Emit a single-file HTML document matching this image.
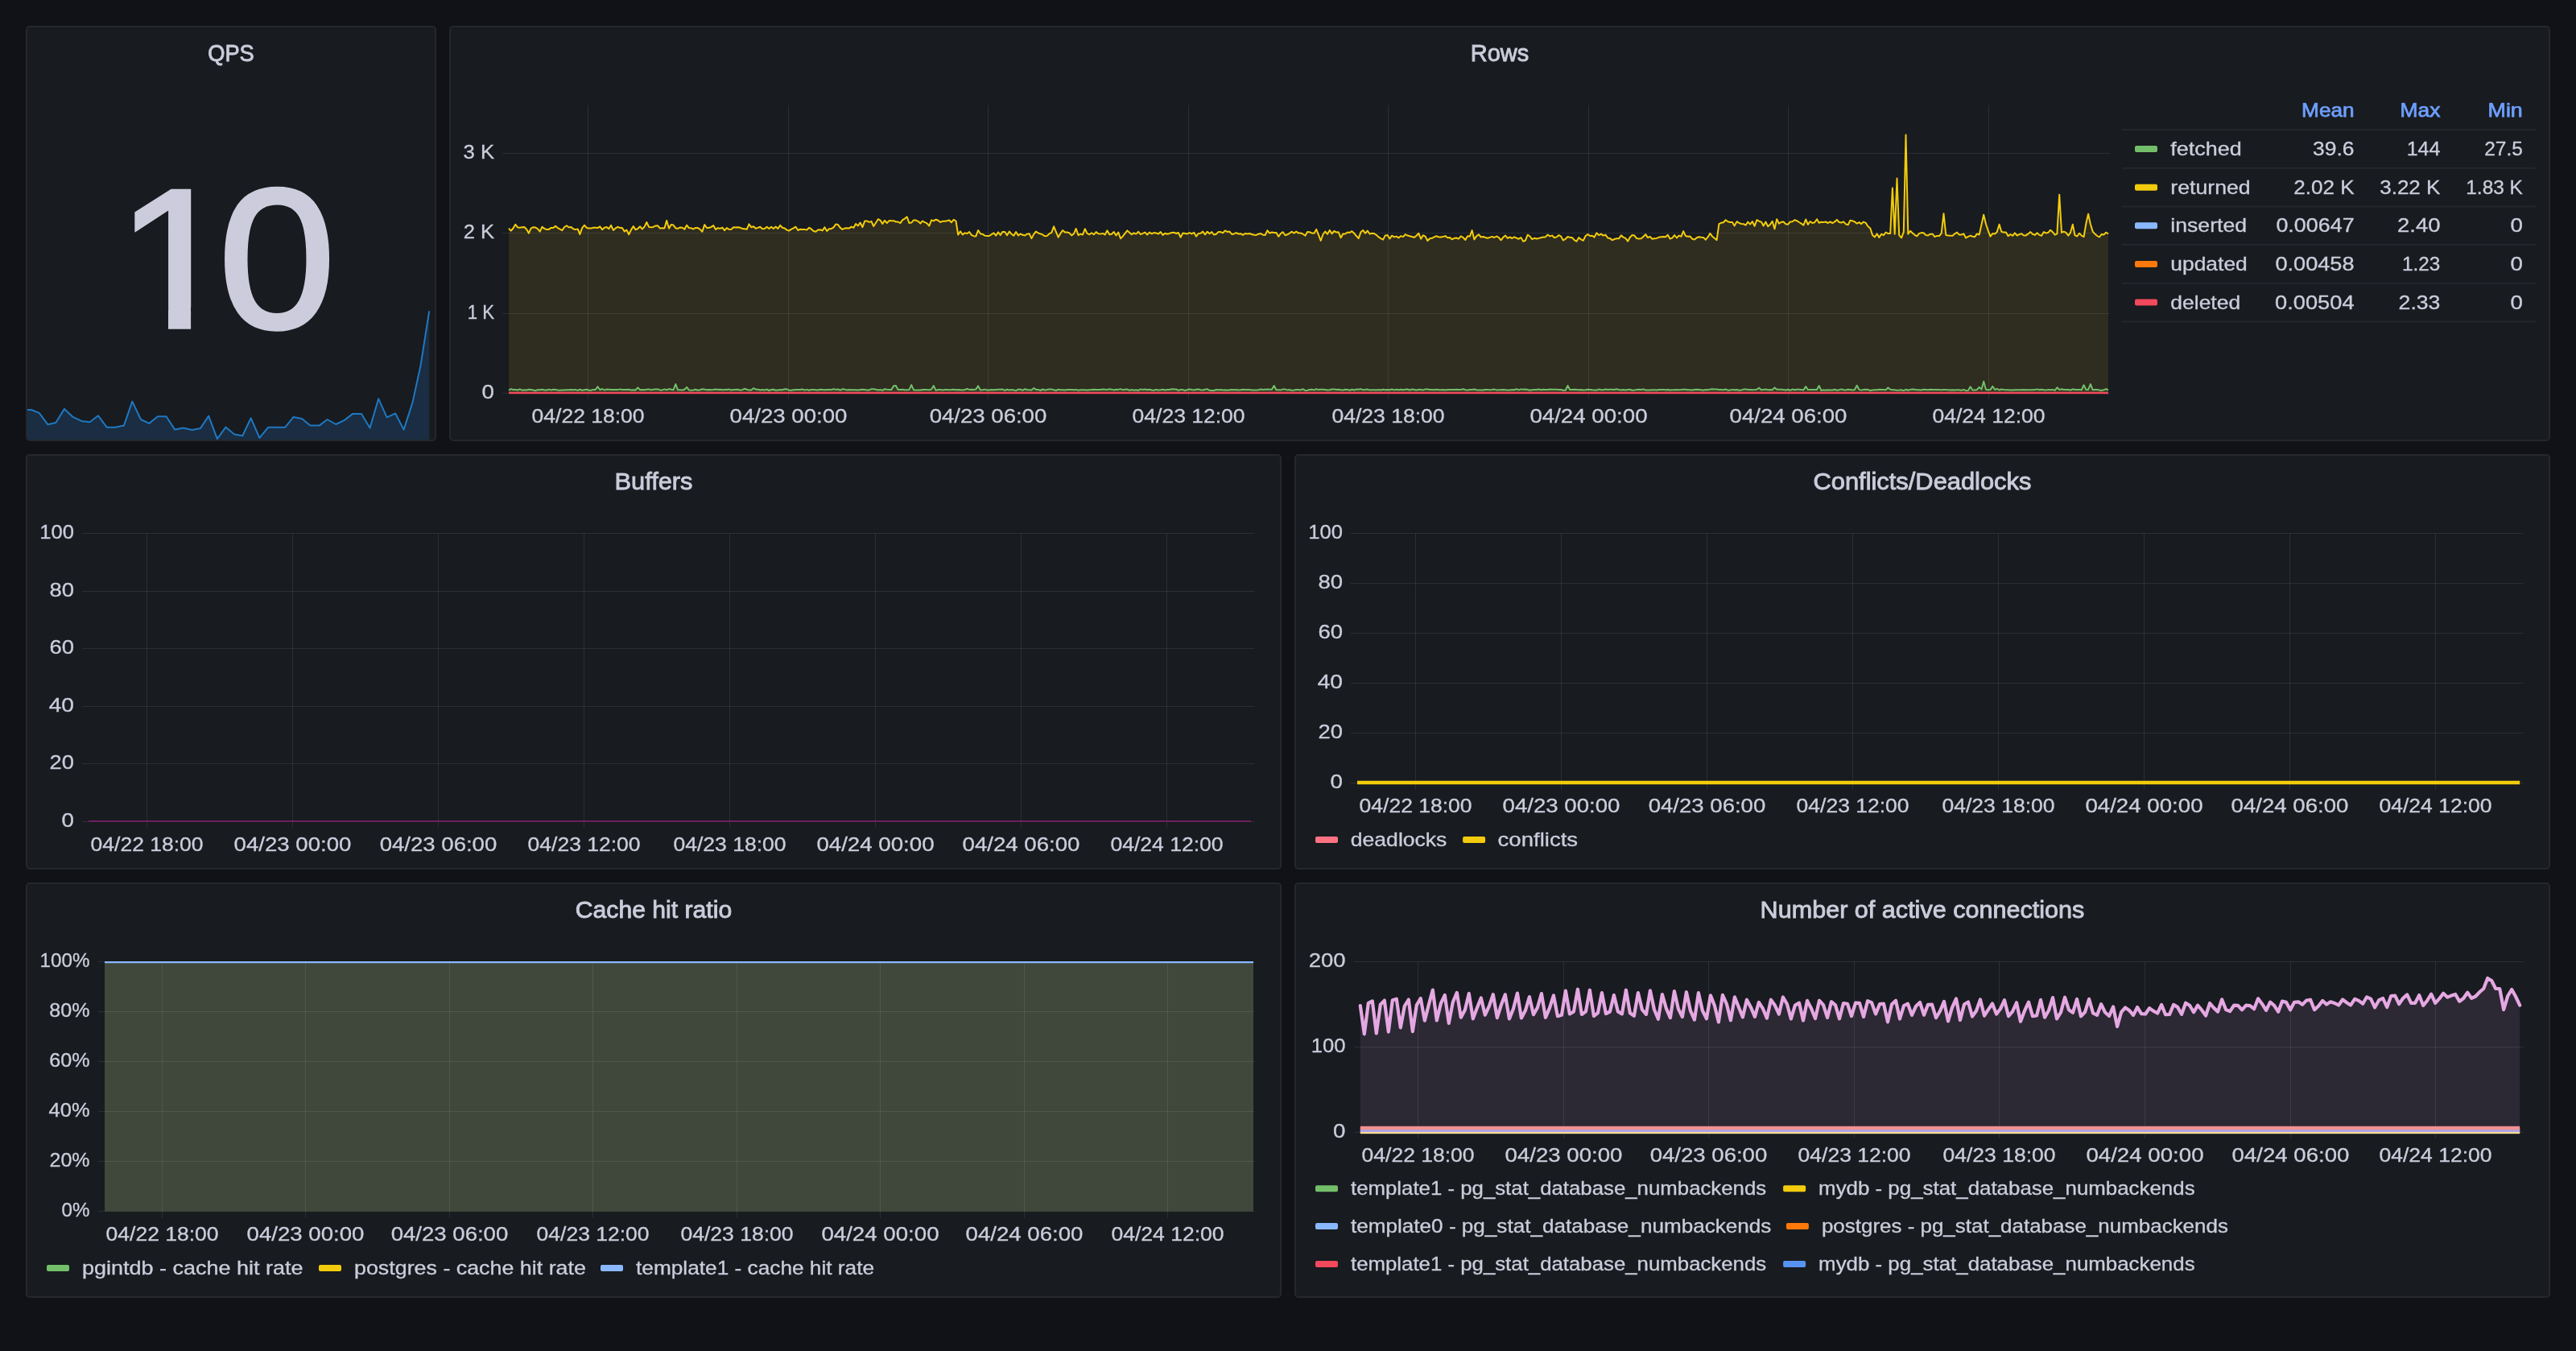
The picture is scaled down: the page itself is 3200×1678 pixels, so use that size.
<!DOCTYPE html><html lang="en"><head><meta charset="utf-8"><title>PostgreSQL dashboard</title><style>
html,body{margin:0;padding:0;background:#111217;}
body{width:3200px;height:1678px;position:relative;overflow:hidden;font-family:"Liberation Sans", sans-serif;}
.panel{position:absolute;box-sizing:border-box;background:#181b1f;border:2px solid #25272c;border-radius:5px;overflow:hidden;}
.panel svg{position:absolute;left:-2px;top:-2px;display:block;font-family:"Liberation Sans", sans-serif;will-change:transform;}
</style></head><body>
<div class="panel" style="left:32px;top:32px;width:510px;height:516px">
<svg width="510" height="516" viewBox="32 32 510 516">
<polygon points="28.2,509.0 38.7,509.0 48.7,512.9 59.3,527.2 69.3,525.0 80.0,507.9 90.6,517.9 101.3,522.9 111.6,524.2 122.0,516.3 132.9,530.8 143.3,530.8 153.9,528.6 164.3,498.6 175.0,521.0 185.3,525.9 195.9,517.3 206.6,517.3 217.2,533.6 227.6,531.6 238.6,533.9 249.0,531.9 259.2,516.6 269.9,545.2 280.3,530.6 291.3,539.5 301.3,541.2 311.7,519.3 322.4,543.9 333.0,530.8 343.7,530.8 354.1,530.8 364.6,517.9 375.0,519.9 385.5,528.6 396.6,528.6 406.6,521.0 417.3,527.0 427.9,521.9 438.2,513.9 449.0,513.9 459.5,531.6 470.2,495.3 480.6,518.3 491.2,513.5 501.6,533.6 512.5,499.9 522.5,454.0 533.2,386.3 533.2,548 28.2,548" fill="#2984e6" fill-opacity="0.175"/>
<polyline points="28.2,509.0 38.7,509.0 48.7,512.9 59.3,527.2 69.3,525.0 80.0,507.9 90.6,517.9 101.3,522.9 111.6,524.2 122.0,516.3 132.9,530.8 143.3,530.8 153.9,528.6 164.3,498.6 175.0,521.0 185.3,525.9 195.9,517.3 206.6,517.3 217.2,533.6 227.6,531.6 238.6,533.9 249.0,531.9 259.2,516.6 269.9,545.2 280.3,530.6 291.3,539.5 301.3,541.2 311.7,519.3 322.4,543.9 333.0,530.8 343.7,530.8 354.1,530.8 364.6,517.9 375.0,519.9 385.5,528.6 396.6,528.6 406.6,521.0 417.3,527.0 427.9,521.9 438.2,513.9 449.0,513.9 459.5,531.6 470.2,495.3 480.6,518.3 491.2,513.5 501.6,533.6 512.5,499.9 522.5,454.0 533.2,386.3" fill="none" stroke="#1F78C1" stroke-width="2" stroke-linejoin="round"/>
<defs><clipPath id="c10"><rect x="100" y="200" width="400" height="181.5"/><rect x="209" y="380" width="28.1" height="40"/><rect x="286" y="380" width="150" height="40"/></clipPath></defs>
<text y="406.8" font-size="247" fill="#ccccdc" stroke="#ccccdc" clip-path="url(#c10)"><tspan x="143.6" stroke-width="4" textLength="149.7" lengthAdjust="spacingAndGlyphs">1</tspan><tspan x="271.5" stroke-width="5" textLength="145.1" lengthAdjust="spacingAndGlyphs">0</tspan></text>
<text x="258.2" y="75.7" font-size="29.26" fill="#ccccdc" textLength="57.6" lengthAdjust="spacingAndGlyphs" stroke="#ccccdc" stroke-width="0.88">QPS</text>
</svg></div>
<div class="panel" style="left:558px;top:32px;width:2610px;height:516px">
<svg width="2610" height="516" viewBox="558 32 2610 516">
<line x1="624.0" x2="2620.6" y1="488.5" y2="488.5" stroke="rgba(240,250,255,0.092)" stroke-width="1"/>
<line x1="624.0" x2="2620.6" y1="389.5" y2="389.5" stroke="rgba(240,250,255,0.092)" stroke-width="1"/>
<line x1="624.0" x2="2620.6" y1="289.5" y2="289.5" stroke="rgba(240,250,255,0.092)" stroke-width="1"/>
<line x1="624.0" x2="2620.6" y1="190.5" y2="190.5" stroke="rgba(240,250,255,0.092)" stroke-width="1"/>
<line x1="730.5" x2="730.5" y1="130.4" y2="496.0" stroke="rgba(240,250,255,0.092)" stroke-width="1"/>
<line x1="979.5" x2="979.5" y1="130.4" y2="496.0" stroke="rgba(240,250,255,0.092)" stroke-width="1"/>
<line x1="1227.5" x2="1227.5" y1="130.4" y2="496.0" stroke="rgba(240,250,255,0.092)" stroke-width="1"/>
<line x1="1476.5" x2="1476.5" y1="130.4" y2="496.0" stroke="rgba(240,250,255,0.092)" stroke-width="1"/>
<line x1="1724.5" x2="1724.5" y1="130.4" y2="496.0" stroke="rgba(240,250,255,0.092)" stroke-width="1"/>
<line x1="1973.5" x2="1973.5" y1="130.4" y2="496.0" stroke="rgba(240,250,255,0.092)" stroke-width="1"/>
<line x1="2221.5" x2="2221.5" y1="130.4" y2="496.0" stroke="rgba(240,250,255,0.092)" stroke-width="1"/>
<line x1="2470.5" x2="2470.5" y1="130.4" y2="496.0" stroke="rgba(240,250,255,0.092)" stroke-width="1"/>
<polygon points="632.0,484.6 634.8,483.1 637.5,484.0 640.3,484.1 643.1,484.5 645.8,483.4 648.6,484.7 651.3,484.2 654.1,484.5 656.9,483.8 659.6,483.9 662.4,484.4 665.2,485.2 667.9,484.1 670.7,484.2 673.5,483.8 676.2,484.5 679.0,484.6 681.7,483.7 684.5,484.4 687.3,483.8 690.0,484.1 692.8,484.5 695.6,484.7 698.3,484.5 701.1,484.4 703.9,484.2 706.6,484.3 709.4,484.1 712.1,484.3 714.9,483.9 717.7,484.9 720.4,483.8 723.2,484.7 726.0,484.2 728.7,483.7 731.5,484.7 734.3,484.8 737.0,483.9 739.8,484.0 742.5,480.2 745.3,484.3 748.1,483.0 750.8,484.5 753.6,483.6 756.4,483.7 759.1,484.0 761.9,484.1 764.7,483.9 767.4,484.1 770.2,483.4 772.9,484.0 775.7,484.0 778.5,484.0 781.2,483.7 784.0,484.6 786.8,484.2 789.5,484.5 792.3,481.4 795.1,484.2 797.8,484.0 800.6,484.2 803.3,483.7 806.1,483.4 808.9,484.4 811.6,483.7 814.4,483.6 817.2,483.5 819.9,484.4 822.7,484.4 825.4,483.4 828.2,484.3 831.0,483.1 833.7,483.7 836.5,484.3 839.3,477.1 842.0,484.3 844.8,484.3 847.6,484.5 850.3,483.7 853.1,480.9 855.8,484.4 858.6,484.7 861.4,484.5 864.1,483.7 866.9,484.7 869.7,484.2 872.4,483.3 875.2,483.8 878.0,484.3 880.7,484.0 883.5,484.3 886.2,484.0 889.0,483.5 891.8,484.0 894.5,483.8 897.3,484.2 900.1,484.0 902.8,484.0 905.6,483.6 908.4,484.5 911.1,484.1 913.9,484.0 916.6,483.8 919.4,484.4 922.2,484.2 924.9,482.8 927.7,483.7 930.5,484.5 933.2,484.6 936.0,482.2 938.8,483.7 941.5,483.8 944.3,484.4 947.0,484.0 949.8,484.5 952.6,483.6 955.3,485.0 958.1,484.0 960.9,483.8 963.6,484.8 966.4,484.4 969.2,484.0 971.9,484.2 974.7,483.3 977.4,483.4 980.2,484.7 983.0,484.8 985.7,484.3 988.5,484.0 991.3,484.1 994.0,484.0 996.8,483.4 999.6,484.6 1002.3,483.9 1005.1,484.7 1007.8,483.9 1010.6,484.0 1013.4,484.2 1016.1,484.4 1018.9,483.8 1021.7,483.9 1024.4,484.3 1027.2,484.0 1030.0,484.1 1032.7,484.1 1035.5,483.2 1038.2,483.9 1041.0,483.5 1043.8,484.7 1046.5,483.3 1049.3,483.6 1052.1,484.4 1054.8,484.0 1057.6,484.2 1060.4,484.2 1063.1,484.2 1065.9,484.6 1068.6,484.1 1071.4,483.7 1074.2,483.9 1076.9,484.4 1079.7,484.4 1082.5,483.3 1085.2,483.3 1088.0,483.8 1090.8,484.4 1093.5,484.0 1096.3,484.9 1099.0,483.2 1101.8,483.8 1104.6,483.9 1107.3,484.1 1110.1,479.2 1112.9,478.9 1115.6,483.9 1118.4,483.9 1121.2,483.7 1123.9,484.3 1126.7,484.2 1129.4,484.1 1132.2,478.1 1135.0,484.4 1137.7,484.4 1140.5,484.5 1143.3,484.5 1146.0,484.0 1148.8,483.9 1151.5,484.1 1154.3,484.2 1157.1,483.6 1159.8,479.1 1162.6,484.9 1165.4,484.0 1168.1,483.9 1170.9,484.4 1173.7,484.1 1176.4,484.1 1179.2,484.3 1181.9,484.1 1184.7,483.8 1187.5,484.3 1190.2,484.1 1193.0,484.2 1195.8,484.5 1198.5,484.1 1201.3,483.0 1204.1,483.9 1206.8,483.8 1209.6,483.9 1212.3,483.6 1215.1,479.4 1217.9,484.5 1220.6,484.3 1223.4,483.6 1226.2,484.5 1228.9,484.5 1231.7,484.1 1234.5,484.3 1237.2,484.0 1240.0,483.8 1242.7,483.7 1245.5,483.6 1248.3,484.9 1251.0,483.8 1253.8,484.5 1256.6,484.0 1259.3,484.4 1262.1,485.1 1264.9,483.6 1267.6,483.8 1270.4,484.8 1273.1,483.2 1275.9,484.3 1278.7,484.3 1281.4,484.4 1284.2,482.0 1287.0,483.9 1289.7,483.9 1292.5,485.0 1295.3,483.5 1298.0,484.6 1300.8,484.1 1303.5,483.5 1306.3,483.6 1309.1,484.3 1311.8,485.0 1314.6,483.7 1317.4,484.2 1320.1,484.2 1322.9,484.4 1325.7,484.1 1328.4,484.0 1331.2,483.9 1333.9,484.3 1336.7,483.9 1339.5,484.8 1342.2,484.3 1345.0,484.2 1347.8,484.3 1350.5,484.6 1353.3,484.2 1356.1,484.1 1358.8,483.8 1361.6,484.1 1364.3,484.1 1367.1,484.0 1369.9,483.6 1372.6,483.7 1375.4,484.1 1378.2,483.3 1380.9,483.7 1383.7,484.4 1386.5,483.8 1389.2,483.9 1392.0,483.1 1394.7,484.3 1397.5,483.8 1400.3,483.6 1403.0,484.7 1405.8,484.1 1408.6,484.7 1411.3,484.3 1414.1,484.9 1416.9,483.4 1419.6,484.1 1422.4,483.6 1425.1,484.2 1427.9,483.7 1430.7,484.5 1433.4,484.7 1436.2,483.9 1439.0,484.4 1441.7,484.2 1444.5,483.8 1447.3,484.5 1450.0,484.1 1452.8,483.9 1455.5,483.3 1458.3,483.6 1461.1,483.5 1463.8,484.9 1466.6,484.0 1469.4,484.1 1472.1,485.0 1474.9,484.1 1477.6,483.6 1480.4,484.1 1483.2,484.4 1485.9,483.8 1488.7,483.5 1491.5,484.3 1494.2,484.4 1497.0,483.8 1499.8,483.3 1502.5,484.8 1505.3,485.0 1508.0,485.0 1510.8,484.0 1513.6,484.3 1516.3,483.9 1519.1,484.5 1521.9,484.3 1524.6,484.8 1527.4,484.3 1530.2,484.0 1532.9,484.3 1535.7,484.1 1538.4,484.4 1541.2,484.3 1544.0,483.7 1546.7,484.0 1549.5,484.1 1552.3,484.1 1555.0,484.6 1557.8,484.4 1560.6,484.4 1563.3,484.2 1566.1,483.6 1568.8,484.1 1571.6,483.7 1574.4,483.5 1577.1,483.8 1579.9,483.7 1582.7,479.0 1585.4,484.2 1588.2,484.2 1591.0,484.4 1593.7,483.4 1596.5,483.6 1599.2,484.4 1602.0,484.0 1604.8,484.9 1607.5,484.6 1610.3,484.1 1613.1,484.0 1615.8,484.4 1618.6,483.3 1621.4,484.9 1624.1,484.7 1626.9,484.1 1629.6,483.7 1632.4,484.4 1635.2,483.3 1637.9,484.1 1640.7,483.8 1643.5,483.8 1646.2,484.1 1649.0,484.5 1651.8,484.2 1654.5,483.5 1657.3,483.6 1660.0,484.0 1662.8,483.8 1665.6,484.3 1668.3,484.4 1671.1,483.8 1673.9,483.9 1676.6,484.8 1679.4,483.8 1682.2,484.5 1684.9,483.6 1687.7,483.8 1690.4,483.1 1693.2,484.3 1696.0,484.0 1698.7,483.6 1701.5,484.4 1704.3,484.3 1707.0,484.2 1709.8,484.6 1712.6,484.1 1715.3,484.5 1718.1,483.7 1720.8,484.2 1723.6,484.0 1726.4,484.3 1729.1,483.5 1731.9,484.4 1734.7,483.7 1737.4,484.2 1740.2,483.8 1743.0,484.2 1745.7,483.7 1748.5,483.5 1751.2,484.6 1754.0,483.5 1756.8,484.0 1759.5,484.6 1762.3,483.8 1765.1,483.9 1767.8,484.4 1770.6,483.4 1773.4,483.5 1776.1,484.0 1778.9,484.0 1781.6,484.2 1784.4,483.7 1787.2,484.2 1789.9,484.3 1792.7,484.1 1795.5,484.4 1798.2,484.1 1801.0,484.1 1803.7,484.1 1806.5,484.0 1809.3,483.8 1812.0,484.0 1814.8,483.9 1817.6,483.2 1820.3,484.2 1823.1,484.4 1825.9,484.1 1828.6,483.9 1831.4,483.5 1834.1,484.3 1836.9,484.4 1839.7,484.4 1842.4,484.5 1845.2,483.9 1848.0,484.1 1850.7,484.2 1853.5,484.1 1856.3,483.6 1859.0,484.4 1861.8,484.2 1864.5,484.3 1867.3,483.9 1870.1,484.2 1872.8,484.6 1875.6,484.5 1878.4,484.1 1881.1,484.3 1883.9,483.3 1886.7,484.4 1889.4,483.4 1892.2,483.8 1894.9,483.6 1897.7,484.0 1900.5,484.8 1903.2,484.2 1906.0,483.9 1908.8,483.9 1911.5,483.5 1914.3,484.3 1917.1,483.7 1919.8,484.0 1922.6,484.0 1925.3,483.5 1928.1,483.8 1930.9,483.7 1933.6,483.8 1936.4,484.1 1939.2,484.1 1941.9,484.7 1944.7,484.7 1947.5,479.0 1950.2,483.9 1953.0,484.1 1955.7,483.8 1958.5,483.9 1961.3,484.2 1964.0,484.1 1966.8,484.4 1969.6,484.2 1972.3,483.7 1975.1,483.9 1977.9,484.3 1980.6,484.6 1983.4,484.6 1986.1,483.6 1988.9,484.2 1991.7,484.2 1994.4,483.6 1997.2,483.9 2000.0,483.7 2002.7,483.7 2005.5,484.0 2008.3,483.3 2011.0,484.1 2013.8,484.4 2016.5,483.9 2019.3,484.4 2022.1,483.9 2024.8,483.7 2027.6,484.8 2030.4,484.6 2033.1,483.9 2035.9,483.8 2038.7,483.9 2041.4,483.4 2044.2,484.5 2046.9,484.6 2049.7,484.6 2052.5,484.3 2055.2,484.3 2058.0,484.6 2060.8,484.0 2063.5,484.0 2066.3,484.1 2069.1,484.2 2071.8,484.0 2074.6,484.4 2077.3,484.3 2080.1,484.2 2082.9,484.0 2085.6,484.3 2088.4,484.1 2091.2,483.7 2093.9,483.8 2096.7,484.3 2099.5,484.2 2102.2,484.6 2105.0,484.1 2107.7,483.7 2110.5,483.9 2113.3,484.2 2116.0,484.7 2118.8,484.1 2121.6,484.3 2124.3,483.6 2127.1,483.2 2129.8,483.6 2132.6,483.6 2135.4,484.1 2138.1,484.0 2140.9,484.3 2143.7,483.5 2146.4,484.7 2149.2,484.6 2152.0,483.9 2154.7,484.2 2157.5,484.0 2160.2,484.7 2163.0,484.5 2165.8,483.6 2168.5,483.6 2171.3,483.9 2174.1,484.0 2176.8,484.3 2179.6,484.1 2182.4,483.8 2185.1,481.8 2187.9,484.2 2190.6,483.9 2193.4,483.6 2196.2,484.2 2198.9,483.9 2201.7,484.3 2204.5,481.4 2207.2,483.8 2210.0,483.7 2212.8,483.8 2215.5,484.0 2218.3,484.4 2221.0,483.8 2223.8,484.7 2226.6,483.6 2229.3,484.2 2232.1,483.8 2234.9,483.8 2237.6,484.0 2240.4,484.4 2243.2,480.0 2245.9,484.1 2248.7,484.0 2251.4,483.9 2254.2,484.0 2257.0,484.1 2259.7,479.1 2262.5,485.1 2265.3,484.2 2268.0,484.7 2270.8,484.3 2273.6,484.5 2276.3,484.5 2279.1,483.8 2281.8,484.8 2284.6,484.3 2287.4,483.4 2290.1,484.3 2292.9,484.4 2295.7,483.7 2298.4,483.9 2301.2,484.5 2304.0,484.0 2306.7,478.8 2309.5,483.9 2312.2,484.6 2315.0,483.9 2317.8,483.8 2320.5,483.9 2323.3,485.0 2326.1,484.4 2328.8,484.2 2331.6,484.2 2334.4,483.7 2337.1,484.1 2339.9,484.0 2342.6,484.2 2345.4,481.5 2348.2,483.8 2350.9,484.2 2353.7,484.3 2356.5,484.7 2359.2,484.6 2362.0,484.2 2364.8,485.1 2367.5,483.8 2370.3,484.8 2373.0,483.9 2375.8,483.6 2378.6,483.8 2381.3,484.2 2384.1,484.3 2386.9,484.4 2389.6,483.7 2392.4,483.9 2395.2,484.3 2397.9,483.7 2400.7,484.1 2403.4,484.1 2406.2,483.9 2409.0,484.1 2411.7,484.2 2414.5,483.9 2417.3,484.1 2420.0,484.2 2422.8,484.6 2425.6,484.2 2428.3,484.4 2431.1,484.3 2433.8,484.2 2436.6,484.7 2439.4,483.9 2442.1,485.2 2444.9,485.0 2447.7,480.3 2450.4,484.5 2453.2,484.6 2455.9,484.0 2458.7,480.9 2461.5,483.6 2464.2,473.7 2467.0,483.7 2469.8,484.2 2472.5,484.1 2475.3,479.9 2478.1,484.0 2480.8,482.9 2483.6,484.5 2486.3,483.5 2489.1,483.9 2491.9,484.2 2494.6,484.3 2497.4,484.4 2500.2,484.4 2502.9,484.2 2505.7,484.3 2508.5,484.3 2511.2,484.3 2514.0,484.0 2516.7,484.3 2519.5,484.3 2522.3,484.3 2525.0,484.2 2527.8,484.1 2530.6,483.4 2533.3,484.3 2536.1,483.7 2538.9,484.3 2541.6,484.6 2544.4,483.9 2547.1,484.3 2549.9,483.9 2552.7,484.9 2555.4,481.3 2558.2,484.1 2561.0,483.2 2563.7,484.0 2566.5,483.9 2569.3,483.9 2572.0,484.5 2574.8,483.3 2577.5,484.0 2580.3,484.1 2583.1,484.1 2585.8,484.2 2588.6,478.3 2591.4,484.0 2594.1,483.9 2596.9,477.1 2599.7,484.3 2602.4,484.0 2605.2,484.1 2607.9,484.5 2610.7,485.0 2613.5,484.1 2616.2,483.3 2619.0,484.2 2619.0,488 632.0,488" fill="#73BF69" fill-opacity="0.1"/>
<polygon points="632.0,283.7 634.8,286.6 637.5,283.5 640.3,278.8 643.1,282.4 645.8,282.7 648.6,282.2 651.3,282.1 654.1,284.7 656.9,289.7 659.6,283.6 662.4,282.2 665.2,282.6 667.9,284.2 670.7,287.6 673.5,281.7 676.2,283.9 679.0,285.1 681.7,284.9 684.5,282.9 687.3,283.1 690.0,280.7 692.8,283.1 695.6,284.7 698.3,286.1 701.1,282.0 703.9,280.3 706.6,282.2 709.4,281.9 712.1,284.2 714.9,285.1 717.7,284.4 720.4,291.0 723.2,283.1 726.0,279.7 728.7,282.9 731.5,283.4 734.3,283.6 737.0,282.7 739.8,282.7 742.5,283.1 745.3,281.3 748.1,285.2 750.8,282.7 753.6,282.1 756.4,284.2 759.1,279.8 761.9,285.9 764.7,283.4 767.4,281.8 770.2,283.0 772.9,283.0 775.7,287.4 778.5,285.6 781.2,291.2 784.0,285.4 786.8,281.1 789.5,285.3 792.3,284.0 795.1,281.3 797.8,284.5 800.6,281.6 803.3,276.0 806.1,281.9 808.9,282.2 811.6,281.9 814.4,280.4 817.2,280.3 819.9,283.6 822.7,283.2 825.4,283.5 828.2,273.9 831.0,283.8 833.7,279.1 836.5,279.5 839.3,283.3 842.0,284.0 844.8,282.4 847.6,282.8 850.3,284.8 853.1,279.7 855.8,283.1 858.6,283.3 861.4,284.5 864.1,282.9 866.9,283.1 869.7,284.8 872.4,287.8 875.2,279.1 878.0,283.0 880.7,283.0 883.5,281.9 886.2,280.1 889.0,284.9 891.8,283.2 894.5,283.9 897.3,282.6 900.1,286.2 902.8,283.1 905.6,284.8 908.4,284.9 911.1,282.2 913.9,282.6 916.6,282.3 919.4,282.7 922.2,284.1 924.9,284.3 927.7,284.8 930.5,278.4 933.2,282.2 936.0,281.2 938.8,283.8 941.5,282.9 944.3,281.8 947.0,284.3 949.8,284.1 952.6,281.8 955.3,284.0 958.1,281.7 960.9,284.1 963.6,281.5 966.4,283.9 969.2,279.9 971.9,282.7 974.7,283.5 977.4,285.6 980.2,286.6 983.0,284.7 985.7,283.4 988.5,281.7 991.3,286.0 994.0,284.7 996.8,285.1 999.6,284.9 1002.3,285.6 1005.1,282.8 1007.8,284.4 1010.6,287.0 1013.4,287.8 1016.1,285.4 1018.9,285.3 1021.7,286.4 1024.4,282.2 1027.2,287.0 1030.0,284.2 1032.7,284.2 1035.5,282.4 1038.2,278.5 1041.0,279.1 1043.8,282.9 1046.5,284.9 1049.3,283.6 1052.1,283.3 1054.8,283.6 1057.6,281.6 1060.4,282.8 1063.1,278.1 1065.9,280.4 1068.6,276.5 1071.4,282.1 1074.2,274.6 1076.9,274.4 1079.7,275.9 1082.5,275.0 1085.2,281.0 1088.0,276.8 1090.8,272.2 1093.5,273.6 1096.3,278.0 1099.0,273.8 1101.8,277.0 1104.6,274.1 1107.3,274.2 1110.1,274.2 1112.9,275.5 1115.6,275.5 1118.4,277.1 1121.2,273.2 1123.9,271.6 1126.7,269.3 1129.4,277.0 1132.2,276.6 1135.0,273.4 1137.7,273.6 1140.5,274.8 1143.3,277.5 1146.0,274.5 1148.8,276.1 1151.5,277.3 1154.3,280.6 1157.1,273.4 1159.8,274.4 1162.6,272.7 1165.4,273.8 1168.1,276.1 1170.9,274.7 1173.7,274.8 1176.4,274.2 1179.2,273.5 1181.9,276.2 1184.7,272.9 1187.5,274.5 1190.2,291.6 1193.0,287.3 1195.8,291.5 1198.5,289.3 1201.3,290.1 1204.1,288.0 1206.8,291.9 1209.6,293.2 1212.3,293.4 1215.1,286.0 1217.9,290.3 1220.6,290.9 1223.4,292.7 1226.2,293.0 1228.9,293.0 1231.7,291.2 1234.5,289.4 1237.2,292.6 1240.0,288.3 1242.7,291.9 1245.5,287.9 1248.3,288.0 1251.0,292.2 1253.8,287.5 1256.6,290.8 1259.3,292.8 1262.1,288.0 1264.9,292.4 1267.6,290.5 1270.4,291.8 1273.1,292.5 1275.9,290.7 1278.7,290.3 1281.4,296.1 1284.2,290.9 1287.0,287.5 1289.7,289.5 1292.5,290.4 1295.3,291.5 1298.0,293.3 1300.8,292.9 1303.5,290.3 1306.3,288.9 1309.1,281.3 1311.8,287.8 1314.6,294.7 1317.4,289.9 1320.1,286.0 1322.9,288.5 1325.7,288.5 1328.4,289.3 1331.2,292.4 1333.9,290.3 1336.7,284.0 1339.5,292.1 1342.2,290.6 1345.0,291.5 1347.8,284.2 1350.5,289.9 1353.3,291.3 1356.1,289.3 1358.8,291.3 1361.6,288.1 1364.3,290.3 1367.1,290.6 1369.9,289.9 1372.6,291.4 1375.4,286.3 1378.2,291.2 1380.9,290.7 1383.7,288.0 1386.5,292.5 1389.2,288.5 1392.0,296.2 1394.7,293.6 1397.5,289.9 1400.3,286.4 1403.0,288.7 1405.8,291.2 1408.6,289.3 1411.3,290.6 1414.1,287.8 1416.9,291.1 1419.6,289.9 1422.4,288.6 1425.1,291.5 1427.9,288.6 1430.7,290.3 1433.4,289.1 1436.2,289.4 1439.0,290.5 1441.7,288.1 1444.5,291.9 1447.3,289.7 1450.0,290.8 1452.8,290.0 1455.5,288.9 1458.3,288.7 1461.1,290.0 1463.8,289.0 1466.6,294.7 1469.4,289.5 1472.1,289.9 1474.9,290.4 1477.6,289.1 1480.4,290.4 1483.2,288.8 1485.9,293.6 1488.7,290.1 1491.5,289.8 1494.2,287.6 1497.0,291.3 1499.8,287.7 1502.5,290.2 1505.3,288.1 1508.0,291.5 1510.8,290.7 1513.6,287.9 1516.3,288.1 1519.1,289.3 1521.9,286.4 1524.6,287.9 1527.4,287.6 1530.2,290.9 1532.9,290.4 1535.7,289.1 1538.4,290.5 1541.2,290.2 1544.0,291.8 1546.7,290.0 1549.5,290.4 1552.3,290.0 1555.0,291.0 1557.8,291.7 1560.6,291.9 1563.3,290.7 1566.1,290.0 1568.8,291.7 1571.6,292.0 1574.4,286.2 1577.1,289.7 1579.9,288.5 1582.7,289.1 1585.4,288.9 1588.2,293.8 1591.0,290.0 1593.7,288.2 1596.5,292.3 1599.2,291.3 1602.0,289.6 1604.8,287.7 1607.5,289.6 1610.3,287.5 1613.1,289.6 1615.8,289.5 1618.6,290.7 1621.4,292.7 1624.1,288.0 1626.9,288.2 1629.6,289.6 1632.4,289.8 1635.2,284.9 1637.9,291.7 1640.7,299.0 1643.5,291.0 1646.2,287.5 1649.0,290.8 1651.8,285.9 1654.5,290.3 1657.3,287.0 1660.0,288.4 1662.8,288.3 1665.6,295.3 1668.3,290.4 1671.1,290.5 1673.9,288.5 1676.6,288.9 1679.4,287.2 1682.2,289.8 1684.9,293.0 1687.7,296.1 1690.4,288.3 1693.2,285.9 1696.0,289.8 1698.7,286.6 1701.5,290.5 1704.3,289.8 1707.0,290.0 1709.8,291.8 1712.6,294.4 1715.3,296.1 1718.1,297.6 1720.8,292.4 1723.6,291.9 1726.4,296.5 1729.1,292.7 1731.9,294.4 1734.7,293.6 1737.4,295.4 1740.2,293.1 1743.0,294.1 1745.7,291.2 1748.5,292.6 1751.2,293.2 1754.0,294.0 1756.8,294.9 1759.5,292.8 1762.3,289.8 1765.1,296.7 1767.8,292.2 1770.6,293.6 1773.4,299.0 1776.1,296.2 1778.9,295.8 1781.6,294.4 1784.4,293.3 1787.2,294.4 1789.9,294.4 1792.7,294.0 1795.5,293.1 1798.2,295.2 1801.0,294.9 1803.7,297.3 1806.5,295.8 1809.3,295.5 1812.0,296.6 1814.8,293.4 1817.6,295.0 1820.3,298.0 1823.1,293.2 1825.9,293.5 1828.6,286.1 1831.4,297.4 1834.1,293.4 1836.9,291.2 1839.7,294.5 1842.4,294.0 1845.2,295.0 1848.0,295.8 1850.7,294.9 1853.5,293.9 1856.3,295.0 1859.0,293.5 1861.8,294.8 1864.5,298.3 1867.3,294.8 1870.1,292.5 1872.8,295.9 1875.6,294.5 1878.4,296.0 1881.1,294.3 1883.9,295.7 1886.7,296.7 1889.4,295.1 1892.2,299.8 1894.9,298.7 1897.7,291.7 1900.5,293.5 1903.2,297.1 1906.0,295.8 1908.8,296.5 1911.5,295.9 1914.3,295.2 1917.1,294.6 1919.8,294.4 1922.6,291.5 1925.3,293.4 1928.1,292.6 1930.9,295.2 1933.6,294.4 1936.4,292.1 1939.2,293.7 1941.9,298.4 1944.7,296.8 1947.5,294.0 1950.2,294.9 1953.0,295.1 1955.7,298.2 1958.5,299.8 1961.3,295.1 1964.0,297.4 1966.8,298.8 1969.6,293.0 1972.3,291.1 1975.1,292.9 1977.9,292.7 1980.6,294.6 1983.4,289.3 1986.1,292.1 1988.9,290.6 1991.7,292.6 1994.4,291.6 1997.2,295.5 2000.0,296.1 2002.7,298.3 2005.5,297.0 2008.3,296.3 2011.0,296.3 2013.8,292.4 2016.5,294.6 2019.3,295.8 2022.1,299.7 2024.8,294.7 2027.6,292.0 2030.4,292.6 2033.1,296.1 2035.9,296.4 2038.7,296.2 2041.4,294.0 2044.2,291.1 2046.9,295.1 2049.7,294.0 2052.5,296.8 2055.2,296.2 2058.0,295.9 2060.8,294.7 2063.5,294.2 2066.3,293.9 2069.1,294.2 2071.8,291.8 2074.6,296.5 2077.3,295.6 2080.1,292.0 2082.9,295.5 2085.6,292.6 2088.4,293.8 2091.2,287.1 2093.9,293.1 2096.7,293.7 2099.5,293.6 2102.2,296.7 2105.0,297.6 2107.7,295.2 2110.5,294.2 2113.3,294.7 2116.0,294.9 2118.8,297.7 2121.6,294.4 2124.3,289.9 2127.1,293.7 2129.8,295.8 2132.6,298.2 2135.4,278.2 2138.1,276.8 2140.9,276.2 2143.7,273.2 2146.4,275.3 2149.2,276.0 2152.0,276.0 2154.7,280.4 2157.5,275.2 2160.2,276.9 2163.0,278.0 2165.8,278.2 2168.5,279.7 2171.3,275.6 2174.1,278.6 2176.8,275.0 2179.6,280.8 2182.4,273.2 2185.1,274.7 2187.9,275.6 2190.6,280.4 2193.4,275.5 2196.2,281.3 2198.9,278.9 2201.7,274.8 2204.5,284.4 2207.2,272.3 2210.0,277.8 2212.8,275.7 2215.5,275.5 2218.3,278.2 2221.0,278.8 2223.8,275.5 2226.6,275.3 2229.3,273.3 2232.1,274.2 2234.9,276.0 2237.6,277.6 2240.4,279.7 2243.2,272.5 2245.9,278.9 2248.7,275.0 2251.4,277.0 2254.2,276.3 2257.0,272.2 2259.7,276.8 2262.5,275.8 2265.3,275.9 2268.0,275.5 2270.8,277.0 2273.6,275.3 2276.3,277.1 2279.1,275.4 2281.8,272.9 2284.6,276.0 2287.4,276.5 2290.1,275.3 2292.9,278.4 2295.7,279.3 2298.4,273.8 2301.2,274.3 2304.0,275.5 2306.7,277.6 2309.5,276.1 2312.2,278.1 2315.0,275.6 2317.8,276.9 2320.5,281.2 2323.3,283.5 2326.1,292.1 2328.8,294.5 2331.6,290.4 2334.4,294.9 2337.1,290.7 2339.9,292.1 2342.6,288.5 2345.4,290.1 2348.2,289.9 2350.9,233.5 2353.7,290.7 2356.5,221.5 2359.2,292.1 2362.0,295.4 2364.8,288.1 2367.5,167.4 2370.3,290.8 2373.0,286.8 2375.8,289.4 2378.6,291.8 2381.3,293.4 2384.1,289.9 2386.9,289.1 2389.6,289.3 2392.4,292.1 2395.2,292.5 2397.9,290.7 2400.7,290.7 2403.4,294.1 2406.2,292.9 2409.0,293.0 2411.7,289.8 2414.5,265.2 2417.3,292.0 2420.0,292.4 2422.8,292.8 2425.6,292.7 2428.3,290.3 2431.1,288.6 2433.8,291.6 2436.6,291.5 2439.4,290.4 2442.1,295.5 2444.9,293.8 2447.7,292.6 2450.4,293.7 2453.2,294.2 2455.9,290.4 2458.7,291.5 2461.5,278.9 2464.2,266.7 2467.0,278.3 2469.8,286.6 2472.5,293.7 2475.3,290.1 2478.1,290.6 2480.8,288.1 2483.6,278.7 2486.3,287.8 2489.1,288.6 2491.9,288.5 2494.6,293.3 2497.4,291.0 2500.2,292.8 2502.9,289.3 2505.7,292.5 2508.5,291.1 2511.2,290.3 2514.0,292.6 2516.7,292.4 2519.5,290.4 2522.3,288.1 2525.0,290.8 2527.8,291.9 2530.6,289.3 2533.3,291.9 2536.1,292.8 2538.9,288.1 2541.6,289.6 2544.4,288.8 2547.1,285.7 2549.9,288.2 2552.7,291.7 2555.4,290.4 2558.2,241.7 2561.0,288.7 2563.7,287.6 2566.5,288.8 2569.3,292.6 2572.0,288.8 2574.8,278.7 2577.5,292.2 2580.3,293.5 2583.1,289.7 2585.8,292.7 2588.6,294.1 2591.4,277.5 2594.1,265.7 2596.9,278.5 2599.7,287.6 2602.4,290.6 2605.2,293.0 2607.9,294.5 2610.7,290.9 2613.5,291.4 2616.2,288.7 2619.0,290.5 2619.0,488 632.0,488" fill="#fec533" fill-opacity="0.1"/>
<polyline points="632.0,484.6 634.8,483.1 637.5,484.0 640.3,484.1 643.1,484.5 645.8,483.4 648.6,484.7 651.3,484.2 654.1,484.5 656.9,483.8 659.6,483.9 662.4,484.4 665.2,485.2 667.9,484.1 670.7,484.2 673.5,483.8 676.2,484.5 679.0,484.6 681.7,483.7 684.5,484.4 687.3,483.8 690.0,484.1 692.8,484.5 695.6,484.7 698.3,484.5 701.1,484.4 703.9,484.2 706.6,484.3 709.4,484.1 712.1,484.3 714.9,483.9 717.7,484.9 720.4,483.8 723.2,484.7 726.0,484.2 728.7,483.7 731.5,484.7 734.3,484.8 737.0,483.9 739.8,484.0 742.5,480.2 745.3,484.3 748.1,483.0 750.8,484.5 753.6,483.6 756.4,483.7 759.1,484.0 761.9,484.1 764.7,483.9 767.4,484.1 770.2,483.4 772.9,484.0 775.7,484.0 778.5,484.0 781.2,483.7 784.0,484.6 786.8,484.2 789.5,484.5 792.3,481.4 795.1,484.2 797.8,484.0 800.6,484.2 803.3,483.7 806.1,483.4 808.9,484.4 811.6,483.7 814.4,483.6 817.2,483.5 819.9,484.4 822.7,484.4 825.4,483.4 828.2,484.3 831.0,483.1 833.7,483.7 836.5,484.3 839.3,477.1 842.0,484.3 844.8,484.3 847.6,484.5 850.3,483.7 853.1,480.9 855.8,484.4 858.6,484.7 861.4,484.5 864.1,483.7 866.9,484.7 869.7,484.2 872.4,483.3 875.2,483.8 878.0,484.3 880.7,484.0 883.5,484.3 886.2,484.0 889.0,483.5 891.8,484.0 894.5,483.8 897.3,484.2 900.1,484.0 902.8,484.0 905.6,483.6 908.4,484.5 911.1,484.1 913.9,484.0 916.6,483.8 919.4,484.4 922.2,484.2 924.9,482.8 927.7,483.7 930.5,484.5 933.2,484.6 936.0,482.2 938.8,483.7 941.5,483.8 944.3,484.4 947.0,484.0 949.8,484.5 952.6,483.6 955.3,485.0 958.1,484.0 960.9,483.8 963.6,484.8 966.4,484.4 969.2,484.0 971.9,484.2 974.7,483.3 977.4,483.4 980.2,484.7 983.0,484.8 985.7,484.3 988.5,484.0 991.3,484.1 994.0,484.0 996.8,483.4 999.6,484.6 1002.3,483.9 1005.1,484.7 1007.8,483.9 1010.6,484.0 1013.4,484.2 1016.1,484.4 1018.9,483.8 1021.7,483.9 1024.4,484.3 1027.2,484.0 1030.0,484.1 1032.7,484.1 1035.5,483.2 1038.2,483.9 1041.0,483.5 1043.8,484.7 1046.5,483.3 1049.3,483.6 1052.1,484.4 1054.8,484.0 1057.6,484.2 1060.4,484.2 1063.1,484.2 1065.9,484.6 1068.6,484.1 1071.4,483.7 1074.2,483.9 1076.9,484.4 1079.7,484.4 1082.5,483.3 1085.2,483.3 1088.0,483.8 1090.8,484.4 1093.5,484.0 1096.3,484.9 1099.0,483.2 1101.8,483.8 1104.6,483.9 1107.3,484.1 1110.1,479.2 1112.9,478.9 1115.6,483.9 1118.4,483.9 1121.2,483.7 1123.9,484.3 1126.7,484.2 1129.4,484.1 1132.2,478.1 1135.0,484.4 1137.7,484.4 1140.5,484.5 1143.3,484.5 1146.0,484.0 1148.8,483.9 1151.5,484.1 1154.3,484.2 1157.1,483.6 1159.8,479.1 1162.6,484.9 1165.4,484.0 1168.1,483.9 1170.9,484.4 1173.7,484.1 1176.4,484.1 1179.2,484.3 1181.9,484.1 1184.7,483.8 1187.5,484.3 1190.2,484.1 1193.0,484.2 1195.8,484.5 1198.5,484.1 1201.3,483.0 1204.1,483.9 1206.8,483.8 1209.6,483.9 1212.3,483.6 1215.1,479.4 1217.9,484.5 1220.6,484.3 1223.4,483.6 1226.2,484.5 1228.9,484.5 1231.7,484.1 1234.5,484.3 1237.2,484.0 1240.0,483.8 1242.7,483.7 1245.5,483.6 1248.3,484.9 1251.0,483.8 1253.8,484.5 1256.6,484.0 1259.3,484.4 1262.1,485.1 1264.9,483.6 1267.6,483.8 1270.4,484.8 1273.1,483.2 1275.9,484.3 1278.7,484.3 1281.4,484.4 1284.2,482.0 1287.0,483.9 1289.7,483.9 1292.5,485.0 1295.3,483.5 1298.0,484.6 1300.8,484.1 1303.5,483.5 1306.3,483.6 1309.1,484.3 1311.8,485.0 1314.6,483.7 1317.4,484.2 1320.1,484.2 1322.9,484.4 1325.7,484.1 1328.4,484.0 1331.2,483.9 1333.9,484.3 1336.7,483.9 1339.5,484.8 1342.2,484.3 1345.0,484.2 1347.8,484.3 1350.5,484.6 1353.3,484.2 1356.1,484.1 1358.8,483.8 1361.6,484.1 1364.3,484.1 1367.1,484.0 1369.9,483.6 1372.6,483.7 1375.4,484.1 1378.2,483.3 1380.9,483.7 1383.7,484.4 1386.5,483.8 1389.2,483.9 1392.0,483.1 1394.7,484.3 1397.5,483.8 1400.3,483.6 1403.0,484.7 1405.8,484.1 1408.6,484.7 1411.3,484.3 1414.1,484.9 1416.9,483.4 1419.6,484.1 1422.4,483.6 1425.1,484.2 1427.9,483.7 1430.7,484.5 1433.4,484.7 1436.2,483.9 1439.0,484.4 1441.7,484.2 1444.5,483.8 1447.3,484.5 1450.0,484.1 1452.8,483.9 1455.5,483.3 1458.3,483.6 1461.1,483.5 1463.8,484.9 1466.6,484.0 1469.4,484.1 1472.1,485.0 1474.9,484.1 1477.6,483.6 1480.4,484.1 1483.2,484.4 1485.9,483.8 1488.7,483.5 1491.5,484.3 1494.2,484.4 1497.0,483.8 1499.8,483.3 1502.5,484.8 1505.3,485.0 1508.0,485.0 1510.8,484.0 1513.6,484.3 1516.3,483.9 1519.1,484.5 1521.9,484.3 1524.6,484.8 1527.4,484.3 1530.2,484.0 1532.9,484.3 1535.7,484.1 1538.4,484.4 1541.2,484.3 1544.0,483.7 1546.7,484.0 1549.5,484.1 1552.3,484.1 1555.0,484.6 1557.8,484.4 1560.6,484.4 1563.3,484.2 1566.1,483.6 1568.8,484.1 1571.6,483.7 1574.4,483.5 1577.1,483.8 1579.9,483.7 1582.7,479.0 1585.4,484.2 1588.2,484.2 1591.0,484.4 1593.7,483.4 1596.5,483.6 1599.2,484.4 1602.0,484.0 1604.8,484.9 1607.5,484.6 1610.3,484.1 1613.1,484.0 1615.8,484.4 1618.6,483.3 1621.4,484.9 1624.1,484.7 1626.9,484.1 1629.6,483.7 1632.4,484.4 1635.2,483.3 1637.9,484.1 1640.7,483.8 1643.5,483.8 1646.2,484.1 1649.0,484.5 1651.8,484.2 1654.5,483.5 1657.3,483.6 1660.0,484.0 1662.8,483.8 1665.6,484.3 1668.3,484.4 1671.1,483.8 1673.9,483.9 1676.6,484.8 1679.4,483.8 1682.2,484.5 1684.9,483.6 1687.7,483.8 1690.4,483.1 1693.2,484.3 1696.0,484.0 1698.7,483.6 1701.5,484.4 1704.3,484.3 1707.0,484.2 1709.8,484.6 1712.6,484.1 1715.3,484.5 1718.1,483.7 1720.8,484.2 1723.6,484.0 1726.4,484.3 1729.1,483.5 1731.9,484.4 1734.7,483.7 1737.4,484.2 1740.2,483.8 1743.0,484.2 1745.7,483.7 1748.5,483.5 1751.2,484.6 1754.0,483.5 1756.8,484.0 1759.5,484.6 1762.3,483.8 1765.1,483.9 1767.8,484.4 1770.6,483.4 1773.4,483.5 1776.1,484.0 1778.9,484.0 1781.6,484.2 1784.4,483.7 1787.2,484.2 1789.9,484.3 1792.7,484.1 1795.5,484.4 1798.2,484.1 1801.0,484.1 1803.7,484.1 1806.5,484.0 1809.3,483.8 1812.0,484.0 1814.8,483.9 1817.6,483.2 1820.3,484.2 1823.1,484.4 1825.9,484.1 1828.6,483.9 1831.4,483.5 1834.1,484.3 1836.9,484.4 1839.7,484.4 1842.4,484.5 1845.2,483.9 1848.0,484.1 1850.7,484.2 1853.5,484.1 1856.3,483.6 1859.0,484.4 1861.8,484.2 1864.5,484.3 1867.3,483.9 1870.1,484.2 1872.8,484.6 1875.6,484.5 1878.4,484.1 1881.1,484.3 1883.9,483.3 1886.7,484.4 1889.4,483.4 1892.2,483.8 1894.9,483.6 1897.7,484.0 1900.5,484.8 1903.2,484.2 1906.0,483.9 1908.8,483.9 1911.5,483.5 1914.3,484.3 1917.1,483.7 1919.8,484.0 1922.6,484.0 1925.3,483.5 1928.1,483.8 1930.9,483.7 1933.6,483.8 1936.4,484.1 1939.2,484.1 1941.9,484.7 1944.7,484.7 1947.5,479.0 1950.2,483.9 1953.0,484.1 1955.7,483.8 1958.5,483.9 1961.3,484.2 1964.0,484.1 1966.8,484.4 1969.6,484.2 1972.3,483.7 1975.1,483.9 1977.9,484.3 1980.6,484.6 1983.4,484.6 1986.1,483.6 1988.9,484.2 1991.7,484.2 1994.4,483.6 1997.2,483.9 2000.0,483.7 2002.7,483.7 2005.5,484.0 2008.3,483.3 2011.0,484.1 2013.8,484.4 2016.5,483.9 2019.3,484.4 2022.1,483.9 2024.8,483.7 2027.6,484.8 2030.4,484.6 2033.1,483.9 2035.9,483.8 2038.7,483.9 2041.4,483.4 2044.2,484.5 2046.9,484.6 2049.7,484.6 2052.5,484.3 2055.2,484.3 2058.0,484.6 2060.8,484.0 2063.5,484.0 2066.3,484.1 2069.1,484.2 2071.8,484.0 2074.6,484.4 2077.3,484.3 2080.1,484.2 2082.9,484.0 2085.6,484.3 2088.4,484.1 2091.2,483.7 2093.9,483.8 2096.7,484.3 2099.5,484.2 2102.2,484.6 2105.0,484.1 2107.7,483.7 2110.5,483.9 2113.3,484.2 2116.0,484.7 2118.8,484.1 2121.6,484.3 2124.3,483.6 2127.1,483.2 2129.8,483.6 2132.6,483.6 2135.4,484.1 2138.1,484.0 2140.9,484.3 2143.7,483.5 2146.4,484.7 2149.2,484.6 2152.0,483.9 2154.7,484.2 2157.5,484.0 2160.2,484.7 2163.0,484.5 2165.8,483.6 2168.5,483.6 2171.3,483.9 2174.1,484.0 2176.8,484.3 2179.6,484.1 2182.4,483.8 2185.1,481.8 2187.9,484.2 2190.6,483.9 2193.4,483.6 2196.2,484.2 2198.9,483.9 2201.7,484.3 2204.5,481.4 2207.2,483.8 2210.0,483.7 2212.8,483.8 2215.5,484.0 2218.3,484.4 2221.0,483.8 2223.8,484.7 2226.6,483.6 2229.3,484.2 2232.1,483.8 2234.9,483.8 2237.6,484.0 2240.4,484.4 2243.2,480.0 2245.9,484.1 2248.7,484.0 2251.4,483.9 2254.2,484.0 2257.0,484.1 2259.7,479.1 2262.5,485.1 2265.3,484.2 2268.0,484.7 2270.8,484.3 2273.6,484.5 2276.3,484.5 2279.1,483.8 2281.8,484.8 2284.6,484.3 2287.4,483.4 2290.1,484.3 2292.9,484.4 2295.7,483.7 2298.4,483.9 2301.2,484.5 2304.0,484.0 2306.7,478.8 2309.5,483.9 2312.2,484.6 2315.0,483.9 2317.8,483.8 2320.5,483.9 2323.3,485.0 2326.1,484.4 2328.8,484.2 2331.6,484.2 2334.4,483.7 2337.1,484.1 2339.9,484.0 2342.6,484.2 2345.4,481.5 2348.2,483.8 2350.9,484.2 2353.7,484.3 2356.5,484.7 2359.2,484.6 2362.0,484.2 2364.8,485.1 2367.5,483.8 2370.3,484.8 2373.0,483.9 2375.8,483.6 2378.6,483.8 2381.3,484.2 2384.1,484.3 2386.9,484.4 2389.6,483.7 2392.4,483.9 2395.2,484.3 2397.9,483.7 2400.7,484.1 2403.4,484.1 2406.2,483.9 2409.0,484.1 2411.7,484.2 2414.5,483.9 2417.3,484.1 2420.0,484.2 2422.8,484.6 2425.6,484.2 2428.3,484.4 2431.1,484.3 2433.8,484.2 2436.6,484.7 2439.4,483.9 2442.1,485.2 2444.9,485.0 2447.7,480.3 2450.4,484.5 2453.2,484.6 2455.9,484.0 2458.7,480.9 2461.5,483.6 2464.2,473.7 2467.0,483.7 2469.8,484.2 2472.5,484.1 2475.3,479.9 2478.1,484.0 2480.8,482.9 2483.6,484.5 2486.3,483.5 2489.1,483.9 2491.9,484.2 2494.6,484.3 2497.4,484.4 2500.2,484.4 2502.9,484.2 2505.7,484.3 2508.5,484.3 2511.2,484.3 2514.0,484.0 2516.7,484.3 2519.5,484.3 2522.3,484.3 2525.0,484.2 2527.8,484.1 2530.6,483.4 2533.3,484.3 2536.1,483.7 2538.9,484.3 2541.6,484.6 2544.4,483.9 2547.1,484.3 2549.9,483.9 2552.7,484.9 2555.4,481.3 2558.2,484.1 2561.0,483.2 2563.7,484.0 2566.5,483.9 2569.3,483.9 2572.0,484.5 2574.8,483.3 2577.5,484.0 2580.3,484.1 2583.1,484.1 2585.8,484.2 2588.6,478.3 2591.4,484.0 2594.1,483.9 2596.9,477.1 2599.7,484.3 2602.4,484.0 2605.2,484.1 2607.9,484.5 2610.7,485.0 2613.5,484.1 2616.2,483.3 2619.0,484.2" fill="none" stroke="#73BF69" stroke-width="2" stroke-linejoin="round"/>
<polyline points="632.0,283.7 634.8,286.6 637.5,283.5 640.3,278.8 643.1,282.4 645.8,282.7 648.6,282.2 651.3,282.1 654.1,284.7 656.9,289.7 659.6,283.6 662.4,282.2 665.2,282.6 667.9,284.2 670.7,287.6 673.5,281.7 676.2,283.9 679.0,285.1 681.7,284.9 684.5,282.9 687.3,283.1 690.0,280.7 692.8,283.1 695.6,284.7 698.3,286.1 701.1,282.0 703.9,280.3 706.6,282.2 709.4,281.9 712.1,284.2 714.9,285.1 717.7,284.4 720.4,291.0 723.2,283.1 726.0,279.7 728.7,282.9 731.5,283.4 734.3,283.6 737.0,282.7 739.8,282.7 742.5,283.1 745.3,281.3 748.1,285.2 750.8,282.7 753.6,282.1 756.4,284.2 759.1,279.8 761.9,285.9 764.7,283.4 767.4,281.8 770.2,283.0 772.9,283.0 775.7,287.4 778.5,285.6 781.2,291.2 784.0,285.4 786.8,281.1 789.5,285.3 792.3,284.0 795.1,281.3 797.8,284.5 800.6,281.6 803.3,276.0 806.1,281.9 808.9,282.2 811.6,281.9 814.4,280.4 817.2,280.3 819.9,283.6 822.7,283.2 825.4,283.5 828.2,273.9 831.0,283.8 833.7,279.1 836.5,279.5 839.3,283.3 842.0,284.0 844.8,282.4 847.6,282.8 850.3,284.8 853.1,279.7 855.8,283.1 858.6,283.3 861.4,284.5 864.1,282.9 866.9,283.1 869.7,284.8 872.4,287.8 875.2,279.1 878.0,283.0 880.7,283.0 883.5,281.9 886.2,280.1 889.0,284.9 891.8,283.2 894.5,283.9 897.3,282.6 900.1,286.2 902.8,283.1 905.6,284.8 908.4,284.9 911.1,282.2 913.9,282.6 916.6,282.3 919.4,282.7 922.2,284.1 924.9,284.3 927.7,284.8 930.5,278.4 933.2,282.2 936.0,281.2 938.8,283.8 941.5,282.9 944.3,281.8 947.0,284.3 949.8,284.1 952.6,281.8 955.3,284.0 958.1,281.7 960.9,284.1 963.6,281.5 966.4,283.9 969.2,279.9 971.9,282.7 974.7,283.5 977.4,285.6 980.2,286.6 983.0,284.7 985.7,283.4 988.5,281.7 991.3,286.0 994.0,284.7 996.8,285.1 999.6,284.9 1002.3,285.6 1005.1,282.8 1007.8,284.4 1010.6,287.0 1013.4,287.8 1016.1,285.4 1018.9,285.3 1021.7,286.4 1024.4,282.2 1027.2,287.0 1030.0,284.2 1032.7,284.2 1035.5,282.4 1038.2,278.5 1041.0,279.1 1043.8,282.9 1046.5,284.9 1049.3,283.6 1052.1,283.3 1054.8,283.6 1057.6,281.6 1060.4,282.8 1063.1,278.1 1065.9,280.4 1068.6,276.5 1071.4,282.1 1074.2,274.6 1076.9,274.4 1079.7,275.9 1082.5,275.0 1085.2,281.0 1088.0,276.8 1090.8,272.2 1093.5,273.6 1096.3,278.0 1099.0,273.8 1101.8,277.0 1104.6,274.1 1107.3,274.2 1110.1,274.2 1112.9,275.5 1115.6,275.5 1118.4,277.1 1121.2,273.2 1123.9,271.6 1126.7,269.3 1129.4,277.0 1132.2,276.6 1135.0,273.4 1137.7,273.6 1140.5,274.8 1143.3,277.5 1146.0,274.5 1148.8,276.1 1151.5,277.3 1154.3,280.6 1157.1,273.4 1159.8,274.4 1162.6,272.7 1165.4,273.8 1168.1,276.1 1170.9,274.7 1173.7,274.8 1176.4,274.2 1179.2,273.5 1181.9,276.2 1184.7,272.9 1187.5,274.5 1190.2,291.6 1193.0,287.3 1195.8,291.5 1198.5,289.3 1201.3,290.1 1204.1,288.0 1206.8,291.9 1209.6,293.2 1212.3,293.4 1215.1,286.0 1217.9,290.3 1220.6,290.9 1223.4,292.7 1226.2,293.0 1228.9,293.0 1231.7,291.2 1234.5,289.4 1237.2,292.6 1240.0,288.3 1242.7,291.9 1245.5,287.9 1248.3,288.0 1251.0,292.2 1253.8,287.5 1256.6,290.8 1259.3,292.8 1262.1,288.0 1264.9,292.4 1267.6,290.5 1270.4,291.8 1273.1,292.5 1275.9,290.7 1278.7,290.3 1281.4,296.1 1284.2,290.9 1287.0,287.5 1289.7,289.5 1292.5,290.4 1295.3,291.5 1298.0,293.3 1300.8,292.9 1303.5,290.3 1306.3,288.9 1309.1,281.3 1311.8,287.8 1314.6,294.7 1317.4,289.9 1320.1,286.0 1322.9,288.5 1325.7,288.5 1328.4,289.3 1331.2,292.4 1333.9,290.3 1336.7,284.0 1339.5,292.1 1342.2,290.6 1345.0,291.5 1347.8,284.2 1350.5,289.9 1353.3,291.3 1356.1,289.3 1358.8,291.3 1361.6,288.1 1364.3,290.3 1367.1,290.6 1369.9,289.9 1372.6,291.4 1375.4,286.3 1378.2,291.2 1380.9,290.7 1383.7,288.0 1386.5,292.5 1389.2,288.5 1392.0,296.2 1394.7,293.6 1397.5,289.9 1400.3,286.4 1403.0,288.7 1405.8,291.2 1408.6,289.3 1411.3,290.6 1414.1,287.8 1416.9,291.1 1419.6,289.9 1422.4,288.6 1425.1,291.5 1427.9,288.6 1430.7,290.3 1433.4,289.1 1436.2,289.4 1439.0,290.5 1441.7,288.1 1444.5,291.9 1447.3,289.7 1450.0,290.8 1452.8,290.0 1455.5,288.9 1458.3,288.7 1461.1,290.0 1463.8,289.0 1466.6,294.7 1469.4,289.5 1472.1,289.9 1474.9,290.4 1477.6,289.1 1480.4,290.4 1483.2,288.8 1485.9,293.6 1488.7,290.1 1491.5,289.8 1494.2,287.6 1497.0,291.3 1499.8,287.7 1502.5,290.2 1505.3,288.1 1508.0,291.5 1510.8,290.7 1513.6,287.9 1516.3,288.1 1519.1,289.3 1521.9,286.4 1524.6,287.9 1527.4,287.6 1530.2,290.9 1532.9,290.4 1535.7,289.1 1538.4,290.5 1541.2,290.2 1544.0,291.8 1546.7,290.0 1549.5,290.4 1552.3,290.0 1555.0,291.0 1557.8,291.7 1560.6,291.9 1563.3,290.7 1566.1,290.0 1568.8,291.7 1571.6,292.0 1574.4,286.2 1577.1,289.7 1579.9,288.5 1582.7,289.1 1585.4,288.9 1588.2,293.8 1591.0,290.0 1593.7,288.2 1596.5,292.3 1599.2,291.3 1602.0,289.6 1604.8,287.7 1607.5,289.6 1610.3,287.5 1613.1,289.6 1615.8,289.5 1618.6,290.7 1621.4,292.7 1624.1,288.0 1626.9,288.2 1629.6,289.6 1632.4,289.8 1635.2,284.9 1637.9,291.7 1640.7,299.0 1643.5,291.0 1646.2,287.5 1649.0,290.8 1651.8,285.9 1654.5,290.3 1657.3,287.0 1660.0,288.4 1662.8,288.3 1665.6,295.3 1668.3,290.4 1671.1,290.5 1673.9,288.5 1676.6,288.9 1679.4,287.2 1682.2,289.8 1684.9,293.0 1687.7,296.1 1690.4,288.3 1693.2,285.9 1696.0,289.8 1698.7,286.6 1701.5,290.5 1704.3,289.8 1707.0,290.0 1709.8,291.8 1712.6,294.4 1715.3,296.1 1718.1,297.6 1720.8,292.4 1723.6,291.9 1726.4,296.5 1729.1,292.7 1731.9,294.4 1734.7,293.6 1737.4,295.4 1740.2,293.1 1743.0,294.1 1745.7,291.2 1748.5,292.6 1751.2,293.2 1754.0,294.0 1756.8,294.9 1759.5,292.8 1762.3,289.8 1765.1,296.7 1767.8,292.2 1770.6,293.6 1773.4,299.0 1776.1,296.2 1778.9,295.8 1781.6,294.4 1784.4,293.3 1787.2,294.4 1789.9,294.4 1792.7,294.0 1795.5,293.1 1798.2,295.2 1801.0,294.9 1803.7,297.3 1806.5,295.8 1809.3,295.5 1812.0,296.6 1814.8,293.4 1817.6,295.0 1820.3,298.0 1823.1,293.2 1825.9,293.5 1828.6,286.1 1831.4,297.4 1834.1,293.4 1836.9,291.2 1839.7,294.5 1842.4,294.0 1845.2,295.0 1848.0,295.8 1850.7,294.9 1853.5,293.9 1856.3,295.0 1859.0,293.5 1861.8,294.8 1864.5,298.3 1867.3,294.8 1870.1,292.5 1872.8,295.9 1875.6,294.5 1878.4,296.0 1881.1,294.3 1883.9,295.7 1886.7,296.7 1889.4,295.1 1892.2,299.8 1894.9,298.7 1897.7,291.7 1900.5,293.5 1903.2,297.1 1906.0,295.8 1908.8,296.5 1911.5,295.9 1914.3,295.2 1917.1,294.6 1919.8,294.4 1922.6,291.5 1925.3,293.4 1928.1,292.6 1930.9,295.2 1933.6,294.4 1936.4,292.1 1939.2,293.7 1941.9,298.4 1944.7,296.8 1947.5,294.0 1950.2,294.9 1953.0,295.1 1955.7,298.2 1958.5,299.8 1961.3,295.1 1964.0,297.4 1966.8,298.8 1969.6,293.0 1972.3,291.1 1975.1,292.9 1977.9,292.7 1980.6,294.6 1983.4,289.3 1986.1,292.1 1988.9,290.6 1991.7,292.6 1994.4,291.6 1997.2,295.5 2000.0,296.1 2002.7,298.3 2005.5,297.0 2008.3,296.3 2011.0,296.3 2013.8,292.4 2016.5,294.6 2019.3,295.8 2022.1,299.7 2024.8,294.7 2027.6,292.0 2030.4,292.6 2033.1,296.1 2035.9,296.4 2038.7,296.2 2041.4,294.0 2044.2,291.1 2046.9,295.1 2049.7,294.0 2052.5,296.8 2055.2,296.2 2058.0,295.9 2060.8,294.7 2063.5,294.2 2066.3,293.9 2069.1,294.2 2071.8,291.8 2074.6,296.5 2077.3,295.6 2080.1,292.0 2082.9,295.5 2085.6,292.6 2088.4,293.8 2091.2,287.1 2093.9,293.1 2096.7,293.7 2099.5,293.6 2102.2,296.7 2105.0,297.6 2107.7,295.2 2110.5,294.2 2113.3,294.7 2116.0,294.9 2118.8,297.7 2121.6,294.4 2124.3,289.9 2127.1,293.7 2129.8,295.8 2132.6,298.2 2135.4,278.2 2138.1,276.8 2140.9,276.2 2143.7,273.2 2146.4,275.3 2149.2,276.0 2152.0,276.0 2154.7,280.4 2157.5,275.2 2160.2,276.9 2163.0,278.0 2165.8,278.2 2168.5,279.7 2171.3,275.6 2174.1,278.6 2176.8,275.0 2179.6,280.8 2182.4,273.2 2185.1,274.7 2187.9,275.6 2190.6,280.4 2193.4,275.5 2196.2,281.3 2198.9,278.9 2201.7,274.8 2204.5,284.4 2207.2,272.3 2210.0,277.8 2212.8,275.7 2215.5,275.5 2218.3,278.2 2221.0,278.8 2223.8,275.5 2226.6,275.3 2229.3,273.3 2232.1,274.2 2234.9,276.0 2237.6,277.6 2240.4,279.7 2243.2,272.5 2245.9,278.9 2248.7,275.0 2251.4,277.0 2254.2,276.3 2257.0,272.2 2259.7,276.8 2262.5,275.8 2265.3,275.9 2268.0,275.5 2270.8,277.0 2273.6,275.3 2276.3,277.1 2279.1,275.4 2281.8,272.9 2284.6,276.0 2287.4,276.5 2290.1,275.3 2292.9,278.4 2295.7,279.3 2298.4,273.8 2301.2,274.3 2304.0,275.5 2306.7,277.6 2309.5,276.1 2312.2,278.1 2315.0,275.6 2317.8,276.9 2320.5,281.2 2323.3,283.5 2326.1,292.1 2328.8,294.5 2331.6,290.4 2334.4,294.9 2337.1,290.7 2339.9,292.1 2342.6,288.5 2345.4,290.1 2348.2,289.9 2350.9,233.5 2353.7,290.7 2356.5,221.5 2359.2,292.1 2362.0,295.4 2364.8,288.1 2367.5,167.4 2370.3,290.8 2373.0,286.8 2375.8,289.4 2378.6,291.8 2381.3,293.4 2384.1,289.9 2386.9,289.1 2389.6,289.3 2392.4,292.1 2395.2,292.5 2397.9,290.7 2400.7,290.7 2403.4,294.1 2406.2,292.9 2409.0,293.0 2411.7,289.8 2414.5,265.2 2417.3,292.0 2420.0,292.4 2422.8,292.8 2425.6,292.7 2428.3,290.3 2431.1,288.6 2433.8,291.6 2436.6,291.5 2439.4,290.4 2442.1,295.5 2444.9,293.8 2447.7,292.6 2450.4,293.7 2453.2,294.2 2455.9,290.4 2458.7,291.5 2461.5,278.9 2464.2,266.7 2467.0,278.3 2469.8,286.6 2472.5,293.7 2475.3,290.1 2478.1,290.6 2480.8,288.1 2483.6,278.7 2486.3,287.8 2489.1,288.6 2491.9,288.5 2494.6,293.3 2497.4,291.0 2500.2,292.8 2502.9,289.3 2505.7,292.5 2508.5,291.1 2511.2,290.3 2514.0,292.6 2516.7,292.4 2519.5,290.4 2522.3,288.1 2525.0,290.8 2527.8,291.9 2530.6,289.3 2533.3,291.9 2536.1,292.8 2538.9,288.1 2541.6,289.6 2544.4,288.8 2547.1,285.7 2549.9,288.2 2552.7,291.7 2555.4,290.4 2558.2,241.7 2561.0,288.7 2563.7,287.6 2566.5,288.8 2569.3,292.6 2572.0,288.8 2574.8,278.7 2577.5,292.2 2580.3,293.5 2583.1,289.7 2585.8,292.7 2588.6,294.1 2591.4,277.5 2594.1,265.7 2596.9,278.5 2599.7,287.6 2602.4,290.6 2605.2,293.0 2607.9,294.5 2610.7,290.9 2613.5,291.4 2616.2,288.7 2619.0,290.5" fill="none" stroke="#F2CC0C" stroke-width="2" stroke-linejoin="round"/>
<line x1="632.0" x2="2619.0" y1="488.0" y2="488.0" stroke="#F2495C" stroke-width="2.4"/>
<rect x="2636" y="160.2" width="514" height="2" fill="rgba(204,204,220,0.07)"/>
<rect x="2636" y="207.8" width="514" height="2" fill="rgba(204,204,220,0.07)"/>
<rect x="2636" y="255.5" width="514" height="2" fill="rgba(204,204,220,0.07)"/>
<rect x="2636" y="303.1" width="514" height="2" fill="rgba(204,204,220,0.07)"/>
<rect x="2636" y="350.8" width="514" height="2" fill="rgba(204,204,220,0.07)"/>
<rect x="2636" y="398.4" width="514" height="2" fill="rgba(204,204,220,0.07)"/>
<rect x="2652.0" y="181.0" width="28" height="8" rx="2" fill="#73BF69"/>
<rect x="2652.0" y="228.7" width="28" height="8" rx="2" fill="#F2CC0C"/>
<rect x="2652.0" y="276.3" width="28" height="8" rx="2" fill="#8AB8FF"/>
<rect x="2652.0" y="324.0" width="28" height="8" rx="2" fill="#FF780A"/>
<rect x="2652.0" y="371.6" width="28" height="8" rx="2" fill="#F2495C"/>
<text x="1826.7" y="75.7" font-size="29.26" fill="#ccccdc" textLength="72.5" lengthAdjust="spacingAndGlyphs" stroke="#ccccdc" stroke-width="0.88">Rows</text>
<text x="598.6" y="495.0" font-size="24.72" fill="#ccccdc" textLength="15.4" lengthAdjust="spacingAndGlyphs" stroke="#ccccdc" stroke-width="0.33">0</text>
<text x="580.7" y="396.0" font-size="24.72" fill="#ccccdc" textLength="33.3" lengthAdjust="spacingAndGlyphs" stroke="#ccccdc" stroke-width="0.33">1 K</text>
<text x="575.7" y="296.0" font-size="24.72" fill="#ccccdc" textLength="38.3" lengthAdjust="spacingAndGlyphs" stroke="#ccccdc" stroke-width="0.33">2 K</text>
<text x="575.5" y="197.0" font-size="24.72" fill="#ccccdc" textLength="38.5" lengthAdjust="spacingAndGlyphs" stroke="#ccccdc" stroke-width="0.33">3 K</text>
<text x="660.6" y="524.9" font-size="24.72" fill="#ccccdc" textLength="139.9" lengthAdjust="spacingAndGlyphs" stroke="#ccccdc" stroke-width="0.33">04/22 18:00</text>
<text x="906.6" y="524.9" font-size="24.72" fill="#ccccdc" textLength="145.8" lengthAdjust="spacingAndGlyphs" stroke="#ccccdc" stroke-width="0.33">04/23 00:00</text>
<text x="1154.7" y="524.9" font-size="24.72" fill="#ccccdc" textLength="145.6" lengthAdjust="spacingAndGlyphs" stroke="#ccccdc" stroke-width="0.33">04/23 06:00</text>
<text x="1406.6" y="524.9" font-size="24.72" fill="#ccccdc" textLength="139.9" lengthAdjust="spacingAndGlyphs" stroke="#ccccdc" stroke-width="0.33">04/23 12:00</text>
<text x="1654.5" y="524.9" font-size="24.72" fill="#ccccdc" textLength="140.1" lengthAdjust="spacingAndGlyphs" stroke="#ccccdc" stroke-width="0.33">04/23 18:00</text>
<text x="1900.4" y="524.9" font-size="24.72" fill="#ccccdc" textLength="146.2" lengthAdjust="spacingAndGlyphs" stroke="#ccccdc" stroke-width="0.33">04/24 00:00</text>
<text x="2148.6" y="524.9" font-size="24.72" fill="#ccccdc" textLength="145.9" lengthAdjust="spacingAndGlyphs" stroke="#ccccdc" stroke-width="0.33">04/24 06:00</text>
<text x="2400.4" y="524.9" font-size="24.72" fill="#ccccdc" textLength="140.2" lengthAdjust="spacingAndGlyphs" stroke="#ccccdc" stroke-width="0.33">04/24 12:00</text>
<text x="2859.1" y="144.5" font-size="24.48" fill="#6e9fff" textLength="65.5" lengthAdjust="spacingAndGlyphs" stroke="#6e9fff" stroke-width="0.75">Mean</text>
<text x="2981.6" y="144.5" font-size="24.48" fill="#6e9fff" textLength="49.8" lengthAdjust="spacingAndGlyphs" stroke="#6e9fff" stroke-width="0.75">Max</text>
<text x="3090.5" y="144.5" font-size="24.48" fill="#6e9fff" textLength="43.3" lengthAdjust="spacingAndGlyphs" stroke="#6e9fff" stroke-width="0.75">Min</text>
<text x="2696.3" y="192.9" font-size="24.48" fill="#ccccdc" textLength="88.5" lengthAdjust="spacingAndGlyphs" stroke="#ccccdc" stroke-width="0.33">fetched</text>
<text x="2873.1" y="192.9" font-size="24.12" fill="#ccccdc" textLength="51.5" lengthAdjust="spacingAndGlyphs" stroke="#ccccdc" stroke-width="0.33">39.6</text>
<text x="2989.7" y="192.9" font-size="24.12" fill="#ccccdc" textLength="41.7" lengthAdjust="spacingAndGlyphs" stroke="#ccccdc" stroke-width="0.33">144</text>
<text x="3086.2" y="192.9" font-size="24.12" fill="#ccccdc" textLength="47.6" lengthAdjust="spacingAndGlyphs" stroke="#ccccdc" stroke-width="0.33">27.5</text>
<text x="2696.3" y="240.6" font-size="24.48" fill="#ccccdc" textLength="99.4" lengthAdjust="spacingAndGlyphs" stroke="#ccccdc" stroke-width="0.33">returned</text>
<text x="2849.2" y="240.6" font-size="24.12" fill="#ccccdc" textLength="75.4" lengthAdjust="spacingAndGlyphs" stroke="#ccccdc" stroke-width="0.33">2.02 K</text>
<text x="2956.2" y="240.6" font-size="24.12" fill="#ccccdc" textLength="75.2" lengthAdjust="spacingAndGlyphs" stroke="#ccccdc" stroke-width="0.33">3.22 K</text>
<text x="3063.3" y="240.6" font-size="24.12" fill="#ccccdc" textLength="70.5" lengthAdjust="spacingAndGlyphs" stroke="#ccccdc" stroke-width="0.33">1.83 K</text>
<text x="2696.3" y="288.2" font-size="24.48" fill="#ccccdc" textLength="94.8" lengthAdjust="spacingAndGlyphs" stroke="#ccccdc" stroke-width="0.33">inserted</text>
<text x="2827.4" y="288.2" font-size="24.12" fill="#ccccdc" textLength="97.2" lengthAdjust="spacingAndGlyphs" stroke="#ccccdc" stroke-width="0.33">0.00647</text>
<text x="2978.0" y="288.2" font-size="24.12" fill="#ccccdc" textLength="53.4" lengthAdjust="spacingAndGlyphs" stroke="#ccccdc" stroke-width="0.33">2.40</text>
<text x="3118.4" y="288.2" font-size="24.12" fill="#ccccdc" textLength="15.4" lengthAdjust="spacingAndGlyphs" stroke="#ccccdc" stroke-width="0.33">0</text>
<text x="2696.3" y="335.9" font-size="24.48" fill="#ccccdc" textLength="95.5" lengthAdjust="spacingAndGlyphs" stroke="#ccccdc" stroke-width="0.33">updated</text>
<text x="2826.4" y="335.9" font-size="24.12" fill="#ccccdc" textLength="98.2" lengthAdjust="spacingAndGlyphs" stroke="#ccccdc" stroke-width="0.33">0.00458</text>
<text x="2984.1" y="335.9" font-size="24.12" fill="#ccccdc" textLength="47.3" lengthAdjust="spacingAndGlyphs" stroke="#ccccdc" stroke-width="0.33">1.23</text>
<text x="3118.4" y="335.9" font-size="24.12" fill="#ccccdc" textLength="15.4" lengthAdjust="spacingAndGlyphs" stroke="#ccccdc" stroke-width="0.33">0</text>
<text x="2696.3" y="383.5" font-size="24.48" fill="#ccccdc" textLength="86.9" lengthAdjust="spacingAndGlyphs" stroke="#ccccdc" stroke-width="0.33">deleted</text>
<text x="2826.1" y="383.5" font-size="24.12" fill="#ccccdc" textLength="98.5" lengthAdjust="spacingAndGlyphs" stroke="#ccccdc" stroke-width="0.33">0.00504</text>
<text x="2979.6" y="383.5" font-size="24.12" fill="#ccccdc" textLength="51.8" lengthAdjust="spacingAndGlyphs" stroke="#ccccdc" stroke-width="0.33">2.33</text>
<text x="3118.4" y="383.5" font-size="24.12" fill="#ccccdc" textLength="15.4" lengthAdjust="spacingAndGlyphs" stroke="#ccccdc" stroke-width="0.33">0</text>
</svg></div>
<div class="panel" style="left:32px;top:564px;width:1560px;height:516px">
<svg width="1560" height="516" viewBox="32 564 1560 516">
<line x1="102.0" x2="1558.5" y1="1020.5" y2="1020.5" stroke="rgba(240,250,255,0.092)" stroke-width="1"/>
<line x1="102.0" x2="1558.5" y1="948.5" y2="948.5" stroke="rgba(240,250,255,0.092)" stroke-width="1"/>
<line x1="102.0" x2="1558.5" y1="877.5" y2="877.5" stroke="rgba(240,250,255,0.092)" stroke-width="1"/>
<line x1="102.0" x2="1558.5" y1="805.5" y2="805.5" stroke="rgba(240,250,255,0.092)" stroke-width="1"/>
<line x1="102.0" x2="1558.5" y1="734.5" y2="734.5" stroke="rgba(240,250,255,0.092)" stroke-width="1"/>
<line x1="102.0" x2="1558.5" y1="662.5" y2="662.5" stroke="rgba(240,250,255,0.092)" stroke-width="1"/>
<line x1="182.5" x2="182.5" y1="662.3" y2="1027.9" stroke="rgba(240,250,255,0.092)" stroke-width="1"/>
<line x1="363.5" x2="363.5" y1="662.3" y2="1027.9" stroke="rgba(240,250,255,0.092)" stroke-width="1"/>
<line x1="544.5" x2="544.5" y1="662.3" y2="1027.9" stroke="rgba(240,250,255,0.092)" stroke-width="1"/>
<line x1="725.5" x2="725.5" y1="662.3" y2="1027.9" stroke="rgba(240,250,255,0.092)" stroke-width="1"/>
<line x1="906.5" x2="906.5" y1="662.3" y2="1027.9" stroke="rgba(240,250,255,0.092)" stroke-width="1"/>
<line x1="1087.5" x2="1087.5" y1="662.3" y2="1027.9" stroke="rgba(240,250,255,0.092)" stroke-width="1"/>
<line x1="1268.5" x2="1268.5" y1="662.3" y2="1027.9" stroke="rgba(240,250,255,0.092)" stroke-width="1"/>
<line x1="1449.5" x2="1449.5" y1="662.3" y2="1027.9" stroke="rgba(240,250,255,0.092)" stroke-width="1"/>
<line x1="110.0" x2="1554.0" y1="1020.0" y2="1020.0" stroke="#6D1F62" stroke-width="2"/>
<text x="763.5" y="607.7" font-size="29.26" fill="#ccccdc" textLength="97.0" lengthAdjust="spacingAndGlyphs" stroke="#ccccdc" stroke-width="0.88">Buffers</text>
<text x="76.6" y="1027.0" font-size="24.72" fill="#ccccdc" textLength="15.4" lengthAdjust="spacingAndGlyphs" stroke="#ccccdc" stroke-width="0.33">0</text>
<text x="61.6" y="955.0" font-size="24.72" fill="#ccccdc" textLength="30.4" lengthAdjust="spacingAndGlyphs" stroke="#ccccdc" stroke-width="0.33">20</text>
<text x="60.7" y="884.0" font-size="24.72" fill="#ccccdc" textLength="31.3" lengthAdjust="spacingAndGlyphs" stroke="#ccccdc" stroke-width="0.33">40</text>
<text x="61.4" y="812.0" font-size="24.72" fill="#ccccdc" textLength="30.6" lengthAdjust="spacingAndGlyphs" stroke="#ccccdc" stroke-width="0.33">60</text>
<text x="61.4" y="741.0" font-size="24.72" fill="#ccccdc" textLength="30.6" lengthAdjust="spacingAndGlyphs" stroke="#ccccdc" stroke-width="0.33">80</text>
<text x="49.3" y="669.0" font-size="24.72" fill="#ccccdc" textLength="42.7" lengthAdjust="spacingAndGlyphs" stroke="#ccccdc" stroke-width="0.33">100</text>
<text x="112.6" y="1056.8" font-size="24.72" fill="#ccccdc" textLength="139.9" lengthAdjust="spacingAndGlyphs" stroke="#ccccdc" stroke-width="0.33">04/22 18:00</text>
<text x="290.6" y="1056.8" font-size="24.72" fill="#ccccdc" textLength="145.8" lengthAdjust="spacingAndGlyphs" stroke="#ccccdc" stroke-width="0.33">04/23 00:00</text>
<text x="471.7" y="1056.8" font-size="24.72" fill="#ccccdc" textLength="145.6" lengthAdjust="spacingAndGlyphs" stroke="#ccccdc" stroke-width="0.33">04/23 06:00</text>
<text x="655.6" y="1056.8" font-size="24.72" fill="#ccccdc" textLength="139.9" lengthAdjust="spacingAndGlyphs" stroke="#ccccdc" stroke-width="0.33">04/23 12:00</text>
<text x="836.5" y="1056.8" font-size="24.72" fill="#ccccdc" textLength="140.1" lengthAdjust="spacingAndGlyphs" stroke="#ccccdc" stroke-width="0.33">04/23 18:00</text>
<text x="1014.4" y="1056.8" font-size="24.72" fill="#ccccdc" textLength="146.2" lengthAdjust="spacingAndGlyphs" stroke="#ccccdc" stroke-width="0.33">04/24 00:00</text>
<text x="1195.6" y="1056.8" font-size="24.72" fill="#ccccdc" textLength="145.9" lengthAdjust="spacingAndGlyphs" stroke="#ccccdc" stroke-width="0.33">04/24 06:00</text>
<text x="1379.4" y="1056.8" font-size="24.72" fill="#ccccdc" textLength="140.2" lengthAdjust="spacingAndGlyphs" stroke="#ccccdc" stroke-width="0.33">04/24 12:00</text>
</svg></div>
<div class="panel" style="left:1608px;top:564px;width:1560px;height:516px">
<svg width="1560" height="516" viewBox="1608 564 1560 516">
<line x1="1678.0" x2="3134.5" y1="972.5" y2="972.5" stroke="rgba(240,250,255,0.092)" stroke-width="1"/>
<line x1="1678.0" x2="3134.5" y1="910.5" y2="910.5" stroke="rgba(240,250,255,0.092)" stroke-width="1"/>
<line x1="1678.0" x2="3134.5" y1="848.5" y2="848.5" stroke="rgba(240,250,255,0.092)" stroke-width="1"/>
<line x1="1678.0" x2="3134.5" y1="786.5" y2="786.5" stroke="rgba(240,250,255,0.092)" stroke-width="1"/>
<line x1="1678.0" x2="3134.5" y1="724.5" y2="724.5" stroke="rgba(240,250,255,0.092)" stroke-width="1"/>
<line x1="1678.0" x2="3134.5" y1="662.5" y2="662.5" stroke="rgba(240,250,255,0.092)" stroke-width="1"/>
<line x1="1758.5" x2="1758.5" y1="662.3" y2="980.4" stroke="rgba(240,250,255,0.092)" stroke-width="1"/>
<line x1="1939.5" x2="1939.5" y1="662.3" y2="980.4" stroke="rgba(240,250,255,0.092)" stroke-width="1"/>
<line x1="2120.5" x2="2120.5" y1="662.3" y2="980.4" stroke="rgba(240,250,255,0.092)" stroke-width="1"/>
<line x1="2301.5" x2="2301.5" y1="662.3" y2="980.4" stroke="rgba(240,250,255,0.092)" stroke-width="1"/>
<line x1="2482.5" x2="2482.5" y1="662.3" y2="980.4" stroke="rgba(240,250,255,0.092)" stroke-width="1"/>
<line x1="2663.5" x2="2663.5" y1="662.3" y2="980.4" stroke="rgba(240,250,255,0.092)" stroke-width="1"/>
<line x1="2844.5" x2="2844.5" y1="662.3" y2="980.4" stroke="rgba(240,250,255,0.092)" stroke-width="1"/>
<line x1="3025.5" x2="3025.5" y1="662.3" y2="980.4" stroke="rgba(240,250,255,0.092)" stroke-width="1"/>
<line x1="1686.0" x2="3130.2" y1="972.0" y2="972.0" stroke="#F2CC0C" stroke-width="4.4"/>
<rect x="1634.0" y="1039.0" width="28" height="8" rx="2" fill="#FF7383"/>
<rect x="1817.1" y="1039.0" width="28" height="8" rx="2" fill="#F2CC0C"/>
<text x="2252.5" y="607.7" font-size="29.26" fill="#ccccdc" textLength="270.9" lengthAdjust="spacingAndGlyphs" stroke="#ccccdc" stroke-width="0.88">Conflicts/Deadlocks</text>
<text x="1652.6" y="979.0" font-size="24.72" fill="#ccccdc" textLength="15.4" lengthAdjust="spacingAndGlyphs" stroke="#ccccdc" stroke-width="0.33">0</text>
<text x="1637.6" y="917.0" font-size="24.72" fill="#ccccdc" textLength="30.4" lengthAdjust="spacingAndGlyphs" stroke="#ccccdc" stroke-width="0.33">20</text>
<text x="1636.7" y="855.0" font-size="24.72" fill="#ccccdc" textLength="31.3" lengthAdjust="spacingAndGlyphs" stroke="#ccccdc" stroke-width="0.33">40</text>
<text x="1637.4" y="793.0" font-size="24.72" fill="#ccccdc" textLength="30.6" lengthAdjust="spacingAndGlyphs" stroke="#ccccdc" stroke-width="0.33">60</text>
<text x="1637.4" y="731.0" font-size="24.72" fill="#ccccdc" textLength="30.6" lengthAdjust="spacingAndGlyphs" stroke="#ccccdc" stroke-width="0.33">80</text>
<text x="1625.3" y="669.0" font-size="24.72" fill="#ccccdc" textLength="42.7" lengthAdjust="spacingAndGlyphs" stroke="#ccccdc" stroke-width="0.33">100</text>
<text x="1688.6" y="1009.3" font-size="24.72" fill="#ccccdc" textLength="139.9" lengthAdjust="spacingAndGlyphs" stroke="#ccccdc" stroke-width="0.33">04/22 18:00</text>
<text x="1866.6" y="1009.3" font-size="24.72" fill="#ccccdc" textLength="145.8" lengthAdjust="spacingAndGlyphs" stroke="#ccccdc" stroke-width="0.33">04/23 00:00</text>
<text x="2047.7" y="1009.3" font-size="24.72" fill="#ccccdc" textLength="145.6" lengthAdjust="spacingAndGlyphs" stroke="#ccccdc" stroke-width="0.33">04/23 06:00</text>
<text x="2231.6" y="1009.3" font-size="24.72" fill="#ccccdc" textLength="139.9" lengthAdjust="spacingAndGlyphs" stroke="#ccccdc" stroke-width="0.33">04/23 12:00</text>
<text x="2412.5" y="1009.3" font-size="24.72" fill="#ccccdc" textLength="140.1" lengthAdjust="spacingAndGlyphs" stroke="#ccccdc" stroke-width="0.33">04/23 18:00</text>
<text x="2590.4" y="1009.3" font-size="24.72" fill="#ccccdc" textLength="146.2" lengthAdjust="spacingAndGlyphs" stroke="#ccccdc" stroke-width="0.33">04/24 00:00</text>
<text x="2771.6" y="1009.3" font-size="24.72" fill="#ccccdc" textLength="145.9" lengthAdjust="spacingAndGlyphs" stroke="#ccccdc" stroke-width="0.33">04/24 06:00</text>
<text x="2955.4" y="1009.3" font-size="24.72" fill="#ccccdc" textLength="140.2" lengthAdjust="spacingAndGlyphs" stroke="#ccccdc" stroke-width="0.33">04/24 12:00</text>
<text x="1677.8" y="1051.0" font-size="24.48" fill="#ccccdc" textLength="119.6" lengthAdjust="spacingAndGlyphs" stroke="#ccccdc" stroke-width="0.33">deadlocks</text>
<text x="1860.6" y="1051.0" font-size="24.48" fill="#ccccdc" textLength="99.5" lengthAdjust="spacingAndGlyphs" stroke="#ccccdc" stroke-width="0.33">conflicts</text>
</svg></div>
<div class="panel" style="left:32px;top:1096px;width:1560px;height:516px">
<svg width="1560" height="516" viewBox="32 1096 1560 516">
<line x1="122.0" x2="1558.5" y1="1504.5" y2="1504.5" stroke="rgba(240,250,255,0.092)" stroke-width="1"/>
<line x1="122.0" x2="1558.5" y1="1442.5" y2="1442.5" stroke="rgba(240,250,255,0.092)" stroke-width="1"/>
<line x1="122.0" x2="1558.5" y1="1380.5" y2="1380.5" stroke="rgba(240,250,255,0.092)" stroke-width="1"/>
<line x1="122.0" x2="1558.5" y1="1318.5" y2="1318.5" stroke="rgba(240,250,255,0.092)" stroke-width="1"/>
<line x1="122.0" x2="1558.5" y1="1256.5" y2="1256.5" stroke="rgba(240,250,255,0.092)" stroke-width="1"/>
<line x1="122.0" x2="1558.5" y1="1194.5" y2="1194.5" stroke="rgba(240,250,255,0.092)" stroke-width="1"/>
<line x1="201.5" x2="201.5" y1="1195.1" y2="1512.5" stroke="rgba(240,250,255,0.092)" stroke-width="1"/>
<line x1="379.5" x2="379.5" y1="1195.1" y2="1512.5" stroke="rgba(240,250,255,0.092)" stroke-width="1"/>
<line x1="558.5" x2="558.5" y1="1195.1" y2="1512.5" stroke="rgba(240,250,255,0.092)" stroke-width="1"/>
<line x1="736.5" x2="736.5" y1="1195.1" y2="1512.5" stroke="rgba(240,250,255,0.092)" stroke-width="1"/>
<line x1="915.5" x2="915.5" y1="1195.1" y2="1512.5" stroke="rgba(240,250,255,0.092)" stroke-width="1"/>
<line x1="1093.5" x2="1093.5" y1="1195.1" y2="1512.5" stroke="rgba(240,250,255,0.092)" stroke-width="1"/>
<line x1="1272.5" x2="1272.5" y1="1195.1" y2="1512.5" stroke="rgba(240,250,255,0.092)" stroke-width="1"/>
<line x1="1450.5" x2="1450.5" y1="1195.1" y2="1512.5" stroke="rgba(240,250,255,0.092)" stroke-width="1"/>
<rect x="130" y="1195" width="1427" height="309.5" fill="rgb(172,197,138)" fill-opacity="0.271"/>
<line x1="130.0" x2="1557.0" y1="1195.1" y2="1195.1" stroke="#8AB8FF" stroke-width="2.4"/>
<rect x="58.0" y="1571.0" width="28" height="8" rx="2" fill="#73BF69"/>
<rect x="396.0" y="1571.0" width="28" height="8" rx="2" fill="#F2CC0C"/>
<rect x="746.0" y="1571.0" width="28" height="8" rx="2" fill="#8AB8FF"/>
<text x="714.8" y="1139.7" font-size="29.26" fill="#ccccdc" textLength="194.4" lengthAdjust="spacingAndGlyphs" stroke="#ccccdc" stroke-width="0.88">Cache hit ratio</text>
<text x="76.6" y="1511.0" font-size="24.72" fill="#ccccdc" textLength="35.0" lengthAdjust="spacingAndGlyphs" stroke="#ccccdc" stroke-width="0.33">0%</text>
<text x="61.5" y="1449.0" font-size="24.72" fill="#ccccdc" textLength="50.1" lengthAdjust="spacingAndGlyphs" stroke="#ccccdc" stroke-width="0.33">20%</text>
<text x="60.6" y="1387.0" font-size="24.72" fill="#ccccdc" textLength="51.0" lengthAdjust="spacingAndGlyphs" stroke="#ccccdc" stroke-width="0.33">40%</text>
<text x="61.2" y="1325.0" font-size="24.72" fill="#ccccdc" textLength="50.4" lengthAdjust="spacingAndGlyphs" stroke="#ccccdc" stroke-width="0.33">60%</text>
<text x="61.3" y="1263.0" font-size="24.72" fill="#ccccdc" textLength="50.3" lengthAdjust="spacingAndGlyphs" stroke="#ccccdc" stroke-width="0.33">80%</text>
<text x="49.6" y="1201.0" font-size="24.72" fill="#ccccdc" textLength="62.0" lengthAdjust="spacingAndGlyphs" stroke="#ccccdc" stroke-width="0.33">100%</text>
<text x="131.6" y="1541.4" font-size="24.72" fill="#ccccdc" textLength="139.9" lengthAdjust="spacingAndGlyphs" stroke="#ccccdc" stroke-width="0.33">04/22 18:00</text>
<text x="306.6" y="1541.4" font-size="24.72" fill="#ccccdc" textLength="145.8" lengthAdjust="spacingAndGlyphs" stroke="#ccccdc" stroke-width="0.33">04/23 00:00</text>
<text x="485.7" y="1541.4" font-size="24.72" fill="#ccccdc" textLength="145.6" lengthAdjust="spacingAndGlyphs" stroke="#ccccdc" stroke-width="0.33">04/23 06:00</text>
<text x="666.6" y="1541.4" font-size="24.72" fill="#ccccdc" textLength="139.9" lengthAdjust="spacingAndGlyphs" stroke="#ccccdc" stroke-width="0.33">04/23 12:00</text>
<text x="845.5" y="1541.4" font-size="24.72" fill="#ccccdc" textLength="140.1" lengthAdjust="spacingAndGlyphs" stroke="#ccccdc" stroke-width="0.33">04/23 18:00</text>
<text x="1020.4" y="1541.4" font-size="24.72" fill="#ccccdc" textLength="146.2" lengthAdjust="spacingAndGlyphs" stroke="#ccccdc" stroke-width="0.33">04/24 00:00</text>
<text x="1199.6" y="1541.4" font-size="24.72" fill="#ccccdc" textLength="145.9" lengthAdjust="spacingAndGlyphs" stroke="#ccccdc" stroke-width="0.33">04/24 06:00</text>
<text x="1380.4" y="1541.4" font-size="24.72" fill="#ccccdc" textLength="140.2" lengthAdjust="spacingAndGlyphs" stroke="#ccccdc" stroke-width="0.33">04/24 12:00</text>
<text x="102.0" y="1582.7" font-size="24.48" fill="#ccccdc" textLength="274.6" lengthAdjust="spacingAndGlyphs" stroke="#ccccdc" stroke-width="0.33">pgintdb - cache hit rate</text>
<text x="440.0" y="1582.7" font-size="24.48" fill="#ccccdc" textLength="287.9" lengthAdjust="spacingAndGlyphs" stroke="#ccccdc" stroke-width="0.33">postgres - cache hit rate</text>
<text x="790.0" y="1582.7" font-size="24.48" fill="#ccccdc" textLength="296.1" lengthAdjust="spacingAndGlyphs" stroke="#ccccdc" stroke-width="0.33">template1 - cache hit rate</text>
</svg></div>
<div class="panel" style="left:1608px;top:1096px;width:1560px;height:516px">
<svg width="1560" height="516" viewBox="1608 1096 1560 516">
<line x1="1682.0" x2="3134.5" y1="1406.5" y2="1406.5" stroke="rgba(240,250,255,0.092)" stroke-width="1"/>
<line x1="1682.0" x2="3134.5" y1="1300.5" y2="1300.5" stroke="rgba(240,250,255,0.092)" stroke-width="1"/>
<line x1="1682.0" x2="3134.5" y1="1194.5" y2="1194.5" stroke="rgba(240,250,255,0.092)" stroke-width="1"/>
<line x1="1761.5" x2="1761.5" y1="1194.4" y2="1414.1" stroke="rgba(240,250,255,0.092)" stroke-width="1"/>
<line x1="1942.5" x2="1942.5" y1="1194.4" y2="1414.1" stroke="rgba(240,250,255,0.092)" stroke-width="1"/>
<line x1="2122.5" x2="2122.5" y1="1194.4" y2="1414.1" stroke="rgba(240,250,255,0.092)" stroke-width="1"/>
<line x1="2303.5" x2="2303.5" y1="1194.4" y2="1414.1" stroke="rgba(240,250,255,0.092)" stroke-width="1"/>
<line x1="2483.5" x2="2483.5" y1="1194.4" y2="1414.1" stroke="rgba(240,250,255,0.092)" stroke-width="1"/>
<line x1="2664.5" x2="2664.5" y1="1194.4" y2="1414.1" stroke="rgba(240,250,255,0.092)" stroke-width="1"/>
<line x1="2845.5" x2="2845.5" y1="1194.4" y2="1414.1" stroke="rgba(240,250,255,0.092)" stroke-width="1"/>
<line x1="3025.5" x2="3025.5" y1="1194.4" y2="1414.1" stroke="rgba(240,250,255,0.092)" stroke-width="1"/>
<polygon points="1689.8,1249.1 1694.8,1284.3 1699.8,1246.0 1704.8,1243.5 1709.8,1283.5 1714.8,1247.7 1719.8,1242.6 1724.8,1281.6 1729.8,1242.2 1734.8,1240.7 1739.8,1276.3 1744.8,1249.5 1749.8,1241.5 1754.8,1281.1 1759.8,1248.3 1764.8,1240.0 1769.8,1267.7 1774.8,1248.0 1779.8,1229.6 1784.8,1267.4 1789.8,1246.4 1794.8,1236.0 1799.8,1270.9 1804.8,1244.7 1809.8,1232.9 1814.8,1263.7 1819.8,1254.5 1824.8,1234.0 1829.8,1265.3 1834.8,1252.1 1839.8,1239.5 1844.8,1260.7 1849.8,1249.9 1854.8,1235.2 1859.8,1264.2 1864.8,1248.3 1869.8,1235.3 1874.9,1265.4 1879.9,1253.0 1884.9,1233.6 1889.9,1264.5 1894.9,1255.1 1899.9,1238.1 1904.9,1260.1 1909.9,1251.5 1914.9,1234.1 1919.9,1263.8 1924.9,1252.1 1929.9,1236.3 1934.9,1262.2 1939.9,1260.8 1944.9,1230.5 1949.9,1259.5 1954.9,1256.5 1959.9,1228.7 1964.9,1260.0 1969.9,1256.4 1974.9,1229.7 1979.9,1262.0 1984.9,1258.2 1989.9,1233.1 1994.9,1259.0 1999.9,1256.5 2004.9,1236.0 2009.9,1256.4 2014.9,1259.4 2019.9,1229.7 2024.9,1258.3 2029.9,1261.7 2034.9,1233.1 2039.9,1254.0 2044.9,1259.9 2049.9,1230.3 2054.9,1253.7 2059.9,1265.7 2064.9,1235.0 2069.9,1252.7 2074.9,1264.1 2079.9,1231.1 2084.9,1253.1 2089.9,1263.0 2094.9,1232.2 2099.9,1255.2 2104.9,1266.6 2109.9,1233.2 2114.9,1255.2 2119.9,1265.2 2124.9,1236.3 2129.9,1248.9 2134.9,1269.4 2139.9,1235.8 2144.9,1247.0 2149.9,1267.3 2154.9,1238.4 2159.9,1251.0 2164.9,1263.4 2169.9,1241.7 2174.9,1250.9 2179.9,1262.9 2184.9,1244.9 2189.9,1252.7 2194.9,1264.6 2199.9,1241.7 2204.9,1248.8 2209.9,1259.5 2214.9,1238.5 2219.9,1247.0 2224.9,1265.4 2229.9,1248.6 2235.0,1245.7 2240.0,1267.5 2245.0,1242.9 2250.0,1252.5 2255.0,1265.1 2260.0,1242.7 2265.0,1248.2 2270.0,1263.9 2275.0,1244.2 2280.0,1248.3 2285.0,1265.3 2290.0,1246.0 2295.0,1246.8 2300.0,1262.1 2305.0,1245.7 2310.0,1245.9 2315.0,1262.9 2320.0,1243.2 2325.0,1245.1 2330.0,1259.4 2335.0,1247.2 2340.0,1246.7 2345.0,1269.4 2350.0,1247.6 2355.0,1242.7 2360.0,1265.5 2365.0,1249.1 2370.0,1246.7 2375.0,1260.9 2380.0,1249.8 2385.0,1245.0 2390.0,1260.7 2395.0,1247.8 2400.0,1247.6 2405.0,1264.2 2410.0,1255.8 2415.0,1243.9 2420.0,1268.3 2425.0,1251.4 2430.0,1240.5 2435.0,1267.0 2440.0,1247.5 2445.0,1244.5 2450.0,1262.5 2455.0,1255.5 2460.0,1241.4 2465.0,1261.6 2470.0,1253.9 2475.0,1246.5 2480.0,1259.5 2485.0,1253.0 2490.0,1242.2 2495.0,1262.1 2500.0,1256.3 2505.0,1245.3 2510.0,1268.7 2515.0,1255.5 2520.0,1244.7 2525.0,1262.2 2530.0,1261.5 2535.0,1241.9 2540.0,1263.6 2545.0,1255.0 2550.0,1239.1 2555.0,1265.4 2560.0,1257.4 2565.0,1238.7 2570.0,1254.2 2575.0,1257.7 2580.0,1241.0 2585.0,1262.3 2590.0,1257.1 2595.1,1240.8 2600.1,1258.3 2605.1,1260.8 2610.1,1247.2 2615.1,1257.5 2620.1,1261.8 2625.1,1250.4 2630.1,1275.0 2635.1,1257.2 2640.1,1251.5 2645.1,1254.9 2650.1,1260.9 2655.1,1251.0 2660.1,1259.1 2665.1,1259.5 2670.1,1252.1 2675.1,1255.7 2680.1,1258.5 2685.1,1247.9 2690.1,1260.2 2695.1,1259.9 2700.1,1247.9 2705.1,1250.9 2710.1,1259.8 2715.1,1245.7 2720.1,1248.8 2725.1,1257.3 2730.1,1248.6 2735.1,1254.5 2740.1,1261.5 2745.1,1246.0 2750.1,1251.9 2755.1,1256.6 2760.1,1241.3 2765.1,1254.1 2770.1,1256.1 2775.1,1248.7 2780.1,1248.9 2785.1,1254.3 2790.1,1248.7 2795.1,1249.2 2800.1,1253.2 2805.1,1240.3 2810.1,1246.9 2815.1,1254.9 2820.1,1244.7 2825.1,1248.9 2830.1,1256.7 2835.1,1243.6 2840.1,1244.9 2845.1,1254.3 2850.1,1244.8 2855.1,1244.3 2860.1,1247.7 2865.1,1242.6 2870.1,1241.7 2875.1,1254.2 2880.1,1249.5 2885.1,1242.9 2890.1,1247.5 2895.1,1244.3 2900.1,1245.9 2905.1,1248.5 2910.1,1241.5 2915.1,1245.2 2920.1,1248.4 2925.1,1240.8 2930.1,1242.9 2935.1,1246.7 2940.1,1238.3 2945.1,1240.7 2950.1,1251.3 2955.2,1242.2 2960.2,1240.0 2965.2,1251.0 2970.2,1237.1 2975.2,1236.7 2980.2,1247.0 2985.2,1239.8 2990.2,1235.4 2995.2,1245.8 3000.2,1245.8 3005.2,1236.0 3010.2,1248.9 3015.2,1242.7 3020.2,1234.7 3025.2,1245.9 3030.2,1240.4 3035.2,1233.8 3040.2,1238.6 3045.2,1236.6 3050.2,1235.0 3055.2,1243.7 3060.2,1240.0 3065.2,1232.7 3070.2,1239.9 3075.2,1237.5 3080.2,1232.2 3085.2,1228.0 3090.2,1215.0 3095.2,1218.0 3100.2,1228.0 3105.2,1228.0 3110.2,1254.0 3115.2,1237.1 3120.2,1229.0 3125.2,1238.0 3130.2,1248.6 3130.2,1406.1 1689.8,1406.1" fill="#e09df1" fill-opacity="0.1"/>
<polyline points="1689.8,1249.1 1694.8,1284.3 1699.8,1246.0 1704.8,1243.5 1709.8,1283.5 1714.8,1247.7 1719.8,1242.6 1724.8,1281.6 1729.8,1242.2 1734.8,1240.7 1739.8,1276.3 1744.8,1249.5 1749.8,1241.5 1754.8,1281.1 1759.8,1248.3 1764.8,1240.0 1769.8,1267.7 1774.8,1248.0 1779.8,1229.6 1784.8,1267.4 1789.8,1246.4 1794.8,1236.0 1799.8,1270.9 1804.8,1244.7 1809.8,1232.9 1814.8,1263.7 1819.8,1254.5 1824.8,1234.0 1829.8,1265.3 1834.8,1252.1 1839.8,1239.5 1844.8,1260.7 1849.8,1249.9 1854.8,1235.2 1859.8,1264.2 1864.8,1248.3 1869.8,1235.3 1874.9,1265.4 1879.9,1253.0 1884.9,1233.6 1889.9,1264.5 1894.9,1255.1 1899.9,1238.1 1904.9,1260.1 1909.9,1251.5 1914.9,1234.1 1919.9,1263.8 1924.9,1252.1 1929.9,1236.3 1934.9,1262.2 1939.9,1260.8 1944.9,1230.5 1949.9,1259.5 1954.9,1256.5 1959.9,1228.7 1964.9,1260.0 1969.9,1256.4 1974.9,1229.7 1979.9,1262.0 1984.9,1258.2 1989.9,1233.1 1994.9,1259.0 1999.9,1256.5 2004.9,1236.0 2009.9,1256.4 2014.9,1259.4 2019.9,1229.7 2024.9,1258.3 2029.9,1261.7 2034.9,1233.1 2039.9,1254.0 2044.9,1259.9 2049.9,1230.3 2054.9,1253.7 2059.9,1265.7 2064.9,1235.0 2069.9,1252.7 2074.9,1264.1 2079.9,1231.1 2084.9,1253.1 2089.9,1263.0 2094.9,1232.2 2099.9,1255.2 2104.9,1266.6 2109.9,1233.2 2114.9,1255.2 2119.9,1265.2 2124.9,1236.3 2129.9,1248.9 2134.9,1269.4 2139.9,1235.8 2144.9,1247.0 2149.9,1267.3 2154.9,1238.4 2159.9,1251.0 2164.9,1263.4 2169.9,1241.7 2174.9,1250.9 2179.9,1262.9 2184.9,1244.9 2189.9,1252.7 2194.9,1264.6 2199.9,1241.7 2204.9,1248.8 2209.9,1259.5 2214.9,1238.5 2219.9,1247.0 2224.9,1265.4 2229.9,1248.6 2235.0,1245.7 2240.0,1267.5 2245.0,1242.9 2250.0,1252.5 2255.0,1265.1 2260.0,1242.7 2265.0,1248.2 2270.0,1263.9 2275.0,1244.2 2280.0,1248.3 2285.0,1265.3 2290.0,1246.0 2295.0,1246.8 2300.0,1262.1 2305.0,1245.7 2310.0,1245.9 2315.0,1262.9 2320.0,1243.2 2325.0,1245.1 2330.0,1259.4 2335.0,1247.2 2340.0,1246.7 2345.0,1269.4 2350.0,1247.6 2355.0,1242.7 2360.0,1265.5 2365.0,1249.1 2370.0,1246.7 2375.0,1260.9 2380.0,1249.8 2385.0,1245.0 2390.0,1260.7 2395.0,1247.8 2400.0,1247.6 2405.0,1264.2 2410.0,1255.8 2415.0,1243.9 2420.0,1268.3 2425.0,1251.4 2430.0,1240.5 2435.0,1267.0 2440.0,1247.5 2445.0,1244.5 2450.0,1262.5 2455.0,1255.5 2460.0,1241.4 2465.0,1261.6 2470.0,1253.9 2475.0,1246.5 2480.0,1259.5 2485.0,1253.0 2490.0,1242.2 2495.0,1262.1 2500.0,1256.3 2505.0,1245.3 2510.0,1268.7 2515.0,1255.5 2520.0,1244.7 2525.0,1262.2 2530.0,1261.5 2535.0,1241.9 2540.0,1263.6 2545.0,1255.0 2550.0,1239.1 2555.0,1265.4 2560.0,1257.4 2565.0,1238.7 2570.0,1254.2 2575.0,1257.7 2580.0,1241.0 2585.0,1262.3 2590.0,1257.1 2595.1,1240.8 2600.1,1258.3 2605.1,1260.8 2610.1,1247.2 2615.1,1257.5 2620.1,1261.8 2625.1,1250.4 2630.1,1275.0 2635.1,1257.2 2640.1,1251.5 2645.1,1254.9 2650.1,1260.9 2655.1,1251.0 2660.1,1259.1 2665.1,1259.5 2670.1,1252.1 2675.1,1255.7 2680.1,1258.5 2685.1,1247.9 2690.1,1260.2 2695.1,1259.9 2700.1,1247.9 2705.1,1250.9 2710.1,1259.8 2715.1,1245.7 2720.1,1248.8 2725.1,1257.3 2730.1,1248.6 2735.1,1254.5 2740.1,1261.5 2745.1,1246.0 2750.1,1251.9 2755.1,1256.6 2760.1,1241.3 2765.1,1254.1 2770.1,1256.1 2775.1,1248.7 2780.1,1248.9 2785.1,1254.3 2790.1,1248.7 2795.1,1249.2 2800.1,1253.2 2805.1,1240.3 2810.1,1246.9 2815.1,1254.9 2820.1,1244.7 2825.1,1248.9 2830.1,1256.7 2835.1,1243.6 2840.1,1244.9 2845.1,1254.3 2850.1,1244.8 2855.1,1244.3 2860.1,1247.7 2865.1,1242.6 2870.1,1241.7 2875.1,1254.2 2880.1,1249.5 2885.1,1242.9 2890.1,1247.5 2895.1,1244.3 2900.1,1245.9 2905.1,1248.5 2910.1,1241.5 2915.1,1245.2 2920.1,1248.4 2925.1,1240.8 2930.1,1242.9 2935.1,1246.7 2940.1,1238.3 2945.1,1240.7 2950.1,1251.3 2955.2,1242.2 2960.2,1240.0 2965.2,1251.0 2970.2,1237.1 2975.2,1236.7 2980.2,1247.0 2985.2,1239.8 2990.2,1235.4 2995.2,1245.8 3000.2,1245.8 3005.2,1236.0 3010.2,1248.9 3015.2,1242.7 3020.2,1234.7 3025.2,1245.9 3030.2,1240.4 3035.2,1233.8 3040.2,1238.6 3045.2,1236.6 3050.2,1235.0 3055.2,1243.7 3060.2,1240.0 3065.2,1232.7 3070.2,1239.9 3075.2,1237.5 3080.2,1232.2 3085.2,1228.0 3090.2,1215.0 3095.2,1218.0 3100.2,1228.0 3105.2,1228.0 3110.2,1254.0 3115.2,1237.1 3120.2,1229.0 3125.2,1238.0 3130.2,1248.6" fill="none" stroke="#E5A8E2" stroke-width="4.2" stroke-linejoin="round" stroke-linecap="round"/>
<rect x="1689.8" y="1404" width="1440.4" height="4.2" fill="#F9DC96"/>
<rect x="1689.8" y="1401.8" width="1440.4" height="4.2" fill="#AEA2E0"/>
<rect x="1689.8" y="1398.8" width="1440.4" height="4.2" fill="#F29191"/>
<rect x="1634.0" y="1472.2" width="28" height="8" rx="2" fill="#73BF69"/>
<rect x="2215.1" y="1472.2" width="28" height="8" rx="2" fill="#F2CC0C"/>
<rect x="1634.0" y="1519.1" width="28" height="8" rx="2" fill="#8AB8FF"/>
<rect x="2218.9" y="1519.1" width="28" height="8" rx="2" fill="#FF780A"/>
<rect x="1634.0" y="1566.0" width="28" height="8" rx="2" fill="#F2495C"/>
<rect x="2215.1" y="1566.0" width="28" height="8" rx="2" fill="#5794F2"/>
<text x="2186.6" y="1139.7" font-size="29.26" fill="#ccccdc" textLength="402.8" lengthAdjust="spacingAndGlyphs" stroke="#ccccdc" stroke-width="0.88">Number of active connections</text>
<text x="1656.1" y="1413.0" font-size="24.72" fill="#ccccdc" textLength="15.4" lengthAdjust="spacingAndGlyphs" stroke="#ccccdc" stroke-width="0.33">0</text>
<text x="1628.8" y="1307.0" font-size="24.72" fill="#ccccdc" textLength="42.7" lengthAdjust="spacingAndGlyphs" stroke="#ccccdc" stroke-width="0.33">100</text>
<text x="1625.7" y="1201.0" font-size="24.72" fill="#ccccdc" textLength="45.8" lengthAdjust="spacingAndGlyphs" stroke="#ccccdc" stroke-width="0.33">200</text>
<text x="1691.6" y="1443.0" font-size="24.72" fill="#ccccdc" textLength="139.9" lengthAdjust="spacingAndGlyphs" stroke="#ccccdc" stroke-width="0.33">04/22 18:00</text>
<text x="1869.6" y="1443.0" font-size="24.72" fill="#ccccdc" textLength="145.8" lengthAdjust="spacingAndGlyphs" stroke="#ccccdc" stroke-width="0.33">04/23 00:00</text>
<text x="2049.7" y="1443.0" font-size="24.72" fill="#ccccdc" textLength="145.6" lengthAdjust="spacingAndGlyphs" stroke="#ccccdc" stroke-width="0.33">04/23 06:00</text>
<text x="2233.6" y="1443.0" font-size="24.72" fill="#ccccdc" textLength="139.9" lengthAdjust="spacingAndGlyphs" stroke="#ccccdc" stroke-width="0.33">04/23 12:00</text>
<text x="2413.5" y="1443.0" font-size="24.72" fill="#ccccdc" textLength="140.1" lengthAdjust="spacingAndGlyphs" stroke="#ccccdc" stroke-width="0.33">04/23 18:00</text>
<text x="2591.4" y="1443.0" font-size="24.72" fill="#ccccdc" textLength="146.2" lengthAdjust="spacingAndGlyphs" stroke="#ccccdc" stroke-width="0.33">04/24 00:00</text>
<text x="2772.6" y="1443.0" font-size="24.72" fill="#ccccdc" textLength="145.9" lengthAdjust="spacingAndGlyphs" stroke="#ccccdc" stroke-width="0.33">04/24 06:00</text>
<text x="2955.4" y="1443.0" font-size="24.72" fill="#ccccdc" textLength="140.2" lengthAdjust="spacingAndGlyphs" stroke="#ccccdc" stroke-width="0.33">04/24 12:00</text>
<text x="1678.0" y="1484.0" font-size="24.48" fill="#ccccdc" textLength="516.2" lengthAdjust="spacingAndGlyphs" stroke="#ccccdc" stroke-width="0.33">template1 - pg_stat_database_numbackends</text>
<text x="2259.1" y="1484.0" font-size="24.48" fill="#ccccdc" textLength="467.5" lengthAdjust="spacingAndGlyphs" stroke="#ccccdc" stroke-width="0.33">mydb - pg_stat_database_numbackends</text>
<text x="1678.0" y="1530.9" font-size="24.48" fill="#ccccdc" textLength="522.4" lengthAdjust="spacingAndGlyphs" stroke="#ccccdc" stroke-width="0.33">template0 - pg_stat_database_numbackends</text>
<text x="2262.9" y="1530.9" font-size="24.48" fill="#ccccdc" textLength="505.0" lengthAdjust="spacingAndGlyphs" stroke="#ccccdc" stroke-width="0.33">postgres - pg_stat_database_numbackends</text>
<text x="1678.0" y="1577.8" font-size="24.48" fill="#ccccdc" textLength="516.2" lengthAdjust="spacingAndGlyphs" stroke="#ccccdc" stroke-width="0.33">template1 - pg_stat_database_numbackends</text>
<text x="2259.1" y="1577.8" font-size="24.48" fill="#ccccdc" textLength="467.5" lengthAdjust="spacingAndGlyphs" stroke="#ccccdc" stroke-width="0.33">mydb - pg_stat_database_numbackends</text>
</svg></div>
</body></html>
